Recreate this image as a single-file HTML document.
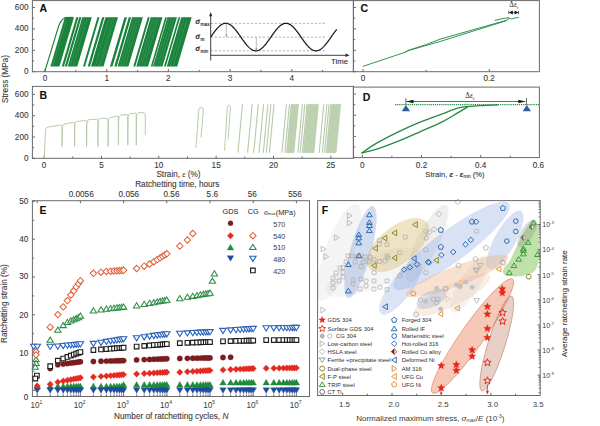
<!DOCTYPE html>
<html><head><meta charset="utf-8"><style>html,body{margin:0;padding:0;background:#fff;}svg{display:block;}</style></head>
<body><svg width="600" height="426" viewBox="0 0 600 426">
<rect x="0" y="0" width="600" height="426" fill="#ffffff"/>
<rect x="32.40" y="0.60" width="321.00" height="71.10" fill="none" stroke="#6a6a6a" stroke-width="1"/>
<line x1="32.40" y1="71.70" x2="35.00" y2="71.70" stroke="#6a6a6a" stroke-width="1" />
<text x="28.50" y="71.70" font-size="8.2" text-anchor="end" fill="#3a3a3a" font-weight="normal" font-family='"Liberation Sans", Arial, sans-serif' dominant-baseline="central" stroke="#3a3a3a" stroke-width="0.1" >0</text>
<line x1="32.40" y1="61.00" x2="34.22" y2="61.00" stroke="#6a6a6a" stroke-width="1" />
<line x1="32.40" y1="50.30" x2="35.00" y2="50.30" stroke="#6a6a6a" stroke-width="1" />
<text x="28.50" y="50.30" font-size="8.2" text-anchor="end" fill="#3a3a3a" font-weight="normal" font-family='"Liberation Sans", Arial, sans-serif' dominant-baseline="central" stroke="#3a3a3a" stroke-width="0.1" >200</text>
<line x1="32.40" y1="39.60" x2="34.22" y2="39.60" stroke="#6a6a6a" stroke-width="1" />
<line x1="32.40" y1="28.90" x2="35.00" y2="28.90" stroke="#6a6a6a" stroke-width="1" />
<text x="28.50" y="28.90" font-size="8.2" text-anchor="end" fill="#3a3a3a" font-weight="normal" font-family='"Liberation Sans", Arial, sans-serif' dominant-baseline="central" stroke="#3a3a3a" stroke-width="0.1" >400</text>
<line x1="32.40" y1="18.20" x2="34.22" y2="18.20" stroke="#6a6a6a" stroke-width="1" />
<line x1="32.40" y1="7.50" x2="35.00" y2="7.50" stroke="#6a6a6a" stroke-width="1" />
<text x="28.50" y="7.50" font-size="8.2" text-anchor="end" fill="#3a3a3a" font-weight="normal" font-family='"Liberation Sans", Arial, sans-serif' dominant-baseline="central" stroke="#3a3a3a" stroke-width="0.1" >600</text>
<line x1="45.00" y1="71.70" x2="45.00" y2="69.10" stroke="#6a6a6a" stroke-width="1" />
<text x="45.00" y="78.00" font-size="8.2" text-anchor="middle" fill="#3a3a3a" font-weight="normal" font-family='"Liberation Sans", Arial, sans-serif' dominant-baseline="central" stroke="#3a3a3a" stroke-width="0.1" >0</text>
<line x1="75.85" y1="71.70" x2="75.85" y2="69.88" stroke="#6a6a6a" stroke-width="1" />
<line x1="106.70" y1="71.70" x2="106.70" y2="69.10" stroke="#6a6a6a" stroke-width="1" />
<text x="106.70" y="78.00" font-size="8.2" text-anchor="middle" fill="#3a3a3a" font-weight="normal" font-family='"Liberation Sans", Arial, sans-serif' dominant-baseline="central" stroke="#3a3a3a" stroke-width="0.1" >1</text>
<line x1="137.55" y1="71.70" x2="137.55" y2="69.88" stroke="#6a6a6a" stroke-width="1" />
<line x1="168.40" y1="71.70" x2="168.40" y2="69.10" stroke="#6a6a6a" stroke-width="1" />
<text x="168.40" y="78.00" font-size="8.2" text-anchor="middle" fill="#3a3a3a" font-weight="normal" font-family='"Liberation Sans", Arial, sans-serif' dominant-baseline="central" stroke="#3a3a3a" stroke-width="0.1" >2</text>
<line x1="199.25" y1="71.70" x2="199.25" y2="69.88" stroke="#6a6a6a" stroke-width="1" />
<line x1="230.10" y1="71.70" x2="230.10" y2="69.10" stroke="#6a6a6a" stroke-width="1" />
<text x="230.10" y="78.00" font-size="8.2" text-anchor="middle" fill="#3a3a3a" font-weight="normal" font-family='"Liberation Sans", Arial, sans-serif' dominant-baseline="central" stroke="#3a3a3a" stroke-width="0.1" >3</text>
<line x1="260.95" y1="71.70" x2="260.95" y2="69.88" stroke="#6a6a6a" stroke-width="1" />
<line x1="291.80" y1="71.70" x2="291.80" y2="69.10" stroke="#6a6a6a" stroke-width="1" />
<text x="291.80" y="78.00" font-size="8.2" text-anchor="middle" fill="#3a3a3a" font-weight="normal" font-family='"Liberation Sans", Arial, sans-serif' dominant-baseline="central" stroke="#3a3a3a" stroke-width="0.1" >4</text>
<line x1="322.65" y1="71.70" x2="322.65" y2="69.88" stroke="#6a6a6a" stroke-width="1" />
<rect x="32.40" y="86.40" width="321.00" height="71.90" fill="none" stroke="#6a6a6a" stroke-width="1"/>
<line x1="32.40" y1="158.30" x2="35.00" y2="158.30" stroke="#6a6a6a" stroke-width="1" />
<text x="28.50" y="158.30" font-size="8.2" text-anchor="end" fill="#3a3a3a" font-weight="normal" font-family='"Liberation Sans", Arial, sans-serif' dominant-baseline="central" stroke="#3a3a3a" stroke-width="0.1" >0</text>
<line x1="32.40" y1="147.65" x2="34.22" y2="147.65" stroke="#6a6a6a" stroke-width="1" />
<line x1="32.40" y1="137.00" x2="35.00" y2="137.00" stroke="#6a6a6a" stroke-width="1" />
<text x="28.50" y="137.00" font-size="8.2" text-anchor="end" fill="#3a3a3a" font-weight="normal" font-family='"Liberation Sans", Arial, sans-serif' dominant-baseline="central" stroke="#3a3a3a" stroke-width="0.1" >200</text>
<line x1="32.40" y1="126.35" x2="34.22" y2="126.35" stroke="#6a6a6a" stroke-width="1" />
<line x1="32.40" y1="115.70" x2="35.00" y2="115.70" stroke="#6a6a6a" stroke-width="1" />
<text x="28.50" y="115.70" font-size="8.2" text-anchor="end" fill="#3a3a3a" font-weight="normal" font-family='"Liberation Sans", Arial, sans-serif' dominant-baseline="central" stroke="#3a3a3a" stroke-width="0.1" >400</text>
<line x1="32.40" y1="105.05" x2="34.22" y2="105.05" stroke="#6a6a6a" stroke-width="1" />
<line x1="32.40" y1="94.40" x2="35.00" y2="94.40" stroke="#6a6a6a" stroke-width="1" />
<text x="28.50" y="94.40" font-size="8.2" text-anchor="end" fill="#3a3a3a" font-weight="normal" font-family='"Liberation Sans", Arial, sans-serif' dominant-baseline="central" stroke="#3a3a3a" stroke-width="0.1" >600</text>
<line x1="44.10" y1="158.30" x2="44.10" y2="155.70" stroke="#6a6a6a" stroke-width="1" />
<text x="44.10" y="165.00" font-size="8.2" text-anchor="middle" fill="#3a3a3a" font-weight="normal" font-family='"Liberation Sans", Arial, sans-serif' dominant-baseline="central" stroke="#3a3a3a" stroke-width="0.1" >0</text>
<line x1="72.78" y1="158.30" x2="72.78" y2="156.48" stroke="#6a6a6a" stroke-width="1" />
<line x1="101.45" y1="158.30" x2="101.45" y2="155.70" stroke="#6a6a6a" stroke-width="1" />
<text x="101.45" y="165.00" font-size="8.2" text-anchor="middle" fill="#3a3a3a" font-weight="normal" font-family='"Liberation Sans", Arial, sans-serif' dominant-baseline="central" stroke="#3a3a3a" stroke-width="0.1" >5</text>
<line x1="130.12" y1="158.30" x2="130.12" y2="156.48" stroke="#6a6a6a" stroke-width="1" />
<line x1="158.80" y1="158.30" x2="158.80" y2="155.70" stroke="#6a6a6a" stroke-width="1" />
<text x="158.80" y="165.00" font-size="8.2" text-anchor="middle" fill="#3a3a3a" font-weight="normal" font-family='"Liberation Sans", Arial, sans-serif' dominant-baseline="central" stroke="#3a3a3a" stroke-width="0.1" >10</text>
<line x1="187.47" y1="158.30" x2="187.47" y2="156.48" stroke="#6a6a6a" stroke-width="1" />
<line x1="216.15" y1="158.30" x2="216.15" y2="155.70" stroke="#6a6a6a" stroke-width="1" />
<text x="216.15" y="165.00" font-size="8.2" text-anchor="middle" fill="#3a3a3a" font-weight="normal" font-family='"Liberation Sans", Arial, sans-serif' dominant-baseline="central" stroke="#3a3a3a" stroke-width="0.1" >15</text>
<line x1="244.83" y1="158.30" x2="244.83" y2="156.48" stroke="#6a6a6a" stroke-width="1" />
<line x1="273.50" y1="158.30" x2="273.50" y2="155.70" stroke="#6a6a6a" stroke-width="1" />
<text x="273.50" y="165.00" font-size="8.2" text-anchor="middle" fill="#3a3a3a" font-weight="normal" font-family='"Liberation Sans", Arial, sans-serif' dominant-baseline="central" stroke="#3a3a3a" stroke-width="0.1" >20</text>
<line x1="302.18" y1="158.30" x2="302.18" y2="156.48" stroke="#6a6a6a" stroke-width="1" />
<line x1="330.85" y1="158.30" x2="330.85" y2="155.70" stroke="#6a6a6a" stroke-width="1" />
<text x="330.85" y="165.00" font-size="8.2" text-anchor="middle" fill="#3a3a3a" font-weight="normal" font-family='"Liberation Sans", Arial, sans-serif' dominant-baseline="central" stroke="#3a3a3a" stroke-width="0.1" >25</text>
<text x="178.50" y="174.30" font-size="8.2" text-anchor="middle" fill="#3a3a3a" font-weight="normal" font-family='"Liberation Sans", Arial, sans-serif' dominant-baseline="central" stroke="#3a3a3a" stroke-width="0.1" >Strain, <tspan font-style="italic" font-family="Liberation Serif, serif">ε</tspan> (%)</text>
<rect x="353.40" y="0.60" width="186.00" height="71.10" fill="none" stroke="#6a6a6a" stroke-width="1"/>
<line x1="353.40" y1="71.70" x2="356.00" y2="71.70" stroke="#6a6a6a" stroke-width="1" />
<line x1="353.40" y1="61.00" x2="355.22" y2="61.00" stroke="#6a6a6a" stroke-width="1" />
<line x1="353.40" y1="50.30" x2="356.00" y2="50.30" stroke="#6a6a6a" stroke-width="1" />
<line x1="353.40" y1="39.60" x2="355.22" y2="39.60" stroke="#6a6a6a" stroke-width="1" />
<line x1="353.40" y1="28.90" x2="356.00" y2="28.90" stroke="#6a6a6a" stroke-width="1" />
<line x1="353.40" y1="18.20" x2="355.22" y2="18.20" stroke="#6a6a6a" stroke-width="1" />
<line x1="353.40" y1="7.50" x2="356.00" y2="7.50" stroke="#6a6a6a" stroke-width="1" />
<line x1="363.00" y1="71.70" x2="363.00" y2="69.10" stroke="#6a6a6a" stroke-width="1" />
<line x1="426.10" y1="71.70" x2="426.10" y2="69.88" stroke="#6a6a6a" stroke-width="1" />
<line x1="489.20" y1="71.70" x2="489.20" y2="69.10" stroke="#6a6a6a" stroke-width="1" />
<text x="363.00" y="78.00" font-size="8.2" text-anchor="middle" fill="#3a3a3a" font-weight="normal" font-family='"Liberation Sans", Arial, sans-serif' dominant-baseline="central" stroke="#3a3a3a" stroke-width="0.1" >0</text>
<text x="489.20" y="78.00" font-size="8.2" text-anchor="middle" fill="#3a3a3a" font-weight="normal" font-family='"Liberation Sans", Arial, sans-serif' dominant-baseline="central" stroke="#3a3a3a" stroke-width="0.1" >0.2</text>
<rect x="353.40" y="87.10" width="186.00" height="70.50" fill="none" stroke="#6a6a6a" stroke-width="1"/>
<line x1="353.40" y1="157.60" x2="356.00" y2="157.60" stroke="#6a6a6a" stroke-width="1" />
<line x1="353.40" y1="147.02" x2="355.22" y2="147.02" stroke="#6a6a6a" stroke-width="1" />
<line x1="353.40" y1="136.43" x2="356.00" y2="136.43" stroke="#6a6a6a" stroke-width="1" />
<line x1="353.40" y1="125.85" x2="355.22" y2="125.85" stroke="#6a6a6a" stroke-width="1" />
<line x1="353.40" y1="115.27" x2="356.00" y2="115.27" stroke="#6a6a6a" stroke-width="1" />
<line x1="353.40" y1="104.68" x2="355.22" y2="104.68" stroke="#6a6a6a" stroke-width="1" />
<line x1="353.40" y1="94.10" x2="356.00" y2="94.10" stroke="#6a6a6a" stroke-width="1" />
<line x1="362.30" y1="157.60" x2="362.30" y2="155.00" stroke="#6a6a6a" stroke-width="1" />
<line x1="391.90" y1="157.60" x2="391.90" y2="155.78" stroke="#6a6a6a" stroke-width="1" />
<line x1="421.50" y1="157.60" x2="421.50" y2="155.00" stroke="#6a6a6a" stroke-width="1" />
<line x1="451.10" y1="157.60" x2="451.10" y2="155.78" stroke="#6a6a6a" stroke-width="1" />
<line x1="480.70" y1="157.60" x2="480.70" y2="155.00" stroke="#6a6a6a" stroke-width="1" />
<line x1="510.30" y1="157.60" x2="510.30" y2="155.78" stroke="#6a6a6a" stroke-width="1" />
<text x="362.30" y="165.00" font-size="8.2" text-anchor="middle" fill="#3a3a3a" font-weight="normal" font-family='"Liberation Sans", Arial, sans-serif' dominant-baseline="central" stroke="#3a3a3a" stroke-width="0.1" >0</text>
<text x="421.50" y="165.00" font-size="8.2" text-anchor="middle" fill="#3a3a3a" font-weight="normal" font-family='"Liberation Sans", Arial, sans-serif' dominant-baseline="central" stroke="#3a3a3a" stroke-width="0.1" >0.2</text>
<text x="480.70" y="165.00" font-size="8.2" text-anchor="middle" fill="#3a3a3a" font-weight="normal" font-family='"Liberation Sans", Arial, sans-serif' dominant-baseline="central" stroke="#3a3a3a" stroke-width="0.1" >0.4</text>
<text x="538.40" y="165.00" font-size="8.2" text-anchor="middle" fill="#3a3a3a" font-weight="normal" font-family='"Liberation Sans", Arial, sans-serif' dominant-baseline="central" stroke="#3a3a3a" stroke-width="0.1" >0.6</text>
<text x="455.00" y="174.00" font-size="7.6" text-anchor="middle" fill="#3a3a3a" font-weight="normal" font-family='"Liberation Sans", Arial, sans-serif' dominant-baseline="central" stroke="#3a3a3a" stroke-width="0.1" >Strain, <tspan font-style="italic" font-weight="bold">ε</tspan> - <tspan font-style="italic" font-weight="bold">ε</tspan><tspan font-size="4.5" dy="1.5">min</tspan><tspan dy="-1.5"> (%)</tspan></text>
<text x="5.00" y="79.00" font-size="8.2" text-anchor="middle" fill="#3a3a3a" font-weight="normal" font-family='"Liberation Sans", Arial, sans-serif' dominant-baseline="central" stroke="#3a3a3a" stroke-width="0.1" transform="rotate(-90 5.0 79.0)">Stress (MPa)</text>
<text x="43.30" y="7.90" font-size="10.5" text-anchor="middle" fill="#111" font-weight="bold" font-family='"Liberation Sans", Arial, sans-serif' dominant-baseline="central" stroke="#111" stroke-width="0.1" >A</text>
<text x="43.30" y="94.60" font-size="10.5" text-anchor="middle" fill="#111" font-weight="bold" font-family='"Liberation Sans", Arial, sans-serif' dominant-baseline="central" stroke="#111" stroke-width="0.1" >B</text>
<text x="364.20" y="7.90" font-size="10.5" text-anchor="middle" fill="#111" font-weight="bold" font-family='"Liberation Sans", Arial, sans-serif' dominant-baseline="central" stroke="#111" stroke-width="0.1" >C</text>
<text x="366.50" y="96.50" font-size="10.5" text-anchor="middle" fill="#111" font-weight="bold" font-family='"Liberation Sans", Arial, sans-serif' dominant-baseline="central" stroke="#111" stroke-width="0.1" >D</text>
<polygon points="50.40,66.60 59.50,66.60 73.97,17.20 64.87,17.20" fill="#19823b" stroke="none" stroke-width="0" opacity="1"/>
<polygon points="61.80,66.60 64.00,66.60 78.47,17.20 76.27,17.20" fill="#19823b" stroke="none" stroke-width="0" opacity="1"/>
<polygon points="64.80,66.60 67.00,66.60 81.47,17.20 79.27,17.20" fill="#19823b" stroke="none" stroke-width="0" opacity="1"/>
<polygon points="67.80,66.60 77.30,66.60 91.77,17.20 82.27,17.20" fill="#19823b" stroke="none" stroke-width="0" opacity="1"/>
<polygon points="83.00,66.60 85.00,66.60 99.47,17.20 97.47,17.20" fill="#19823b" stroke="none" stroke-width="0" opacity="1"/>
<polygon points="87.70,66.60 90.00,66.60 104.47,17.20 102.17,17.20" fill="#19823b" stroke="none" stroke-width="0" opacity="1"/>
<polygon points="91.00,66.60 103.50,66.60 117.97,17.20 105.47,17.20" fill="#19823b" stroke="none" stroke-width="0" opacity="1"/>
<polygon points="110.00,66.60 112.50,66.60 126.97,17.20 124.47,17.20" fill="#19823b" stroke="none" stroke-width="0" opacity="1"/>
<polygon points="114.30,66.60 116.70,66.60 131.17,17.20 128.77,17.20" fill="#19823b" stroke="none" stroke-width="0" opacity="1"/>
<polygon points="117.60,66.60 128.40,66.60 142.87,17.20 132.07,17.20" fill="#19823b" stroke="none" stroke-width="0" opacity="1"/>
<polygon points="133.30,66.60 135.30,66.60 149.77,17.20 147.77,17.20" fill="#19823b" stroke="none" stroke-width="0" opacity="1"/>
<polygon points="136.30,66.60 148.00,66.60 162.47,17.20 150.77,17.20" fill="#19823b" stroke="none" stroke-width="0" opacity="1"/>
<polygon points="150.80,66.60 152.50,66.60 166.97,17.20 165.27,17.20" fill="#19823b" stroke="none" stroke-width="0" opacity="1"/>
<polygon points="153.00,66.60 162.50,66.60 176.97,17.20 167.47,17.20" fill="#19823b" stroke="none" stroke-width="0" opacity="1"/>
<polygon points="164.00,66.60 165.80,66.60 180.27,17.20 178.47,17.20" fill="#19823b" stroke="none" stroke-width="0" opacity="1"/>
<polygon points="166.80,66.60 177.20,66.60 191.67,17.20 181.27,17.20" fill="#19823b" stroke="none" stroke-width="0" opacity="1"/>
<line x1="52.65" y1="66.10" x2="66.53" y2="18.70" stroke="#ffffff" stroke-width="0.4" opacity="0.3"/>
<line x1="70.15" y1="66.10" x2="84.03" y2="18.70" stroke="#ffffff" stroke-width="0.4" opacity="0.3"/>
<line x1="73.15" y1="66.10" x2="87.03" y2="18.70" stroke="#ffffff" stroke-width="0.4" opacity="0.3"/>
<line x1="95.15" y1="66.10" x2="109.03" y2="18.70" stroke="#ffffff" stroke-width="0.4" opacity="0.3"/>
<line x1="98.65" y1="66.10" x2="112.53" y2="18.70" stroke="#ffffff" stroke-width="0.4" opacity="0.3"/>
<line x1="100.65" y1="66.10" x2="114.53" y2="18.70" stroke="#ffffff" stroke-width="0.4" opacity="0.3"/>
<line x1="120.15" y1="66.10" x2="134.03" y2="18.70" stroke="#ffffff" stroke-width="0.4" opacity="0.3"/>
<line x1="122.65" y1="66.10" x2="136.53" y2="18.70" stroke="#ffffff" stroke-width="0.4" opacity="0.3"/>
<line x1="125.15" y1="66.10" x2="139.03" y2="18.70" stroke="#ffffff" stroke-width="0.4" opacity="0.3"/>
<line x1="139.15" y1="66.10" x2="153.03" y2="18.70" stroke="#ffffff" stroke-width="0.4" opacity="0.3"/>
<line x1="141.65" y1="66.10" x2="155.53" y2="18.70" stroke="#ffffff" stroke-width="0.4" opacity="0.3"/>
<line x1="144.15" y1="66.10" x2="158.03" y2="18.70" stroke="#ffffff" stroke-width="0.4" opacity="0.3"/>
<line x1="155.15" y1="66.10" x2="169.03" y2="18.70" stroke="#ffffff" stroke-width="0.4" opacity="0.3"/>
<line x1="157.65" y1="66.10" x2="171.53" y2="18.70" stroke="#ffffff" stroke-width="0.4" opacity="0.3"/>
<line x1="160.15" y1="66.10" x2="174.03" y2="18.70" stroke="#ffffff" stroke-width="0.4" opacity="0.3"/>
<line x1="170.15" y1="66.10" x2="184.03" y2="18.70" stroke="#ffffff" stroke-width="0.4" opacity="0.3"/>
<line x1="173.15" y1="66.10" x2="187.03" y2="18.70" stroke="#ffffff" stroke-width="0.4" opacity="0.3"/>
<path d="M44.7,71.7 L47.4,63 L58.2,27.5 Q60.8,19.5 65.5,17.6 L72.8,17.2" fill="none" stroke="#19823b" stroke-width="1.1"/>
<g stroke="#9a9a9a" stroke-width="0.8" stroke-dasharray="2.2,1.8"><line x1="210.7" y1="23.3" x2="326.5" y2="23.3"/><line x1="210.7" y1="37.1" x2="326.5" y2="37.1"/><line x1="210.7" y1="50.8" x2="326.5" y2="50.8"/></g>
<polyline points="210.70,37.05 211.20,36.33 211.70,35.62 212.20,34.91 212.70,34.20 213.20,33.50 213.70,32.81 214.20,32.14 214.70,31.47 215.20,30.83 215.70,30.20 216.20,29.58 216.70,28.99 217.20,28.42 217.70,27.87 218.20,27.35 218.70,26.86 219.20,26.39 219.70,25.95 220.20,25.54 220.70,25.17 221.20,24.82 221.70,24.51 222.20,24.23 222.70,23.99 223.20,23.78 223.70,23.61 224.20,23.48 224.70,23.38 225.20,23.32 225.70,23.30 226.20,23.32 226.70,23.37 227.20,23.46 227.70,23.58 228.20,23.75 228.70,23.95 229.20,24.18 229.70,24.45 230.20,24.76 230.70,25.09 231.20,25.47 231.70,25.87 232.20,26.30 232.70,26.76 233.20,27.25 233.70,27.77 234.20,28.31 234.70,28.88 235.20,29.46 235.70,30.07 236.20,30.70 236.70,31.34 237.20,32.00 237.70,32.68 238.20,33.36 238.70,34.06 239.20,34.76 239.70,35.47 240.20,36.19 240.70,36.91 241.20,37.62 241.70,38.34 242.20,39.05 242.70,39.76 243.20,40.46 243.70,41.15 244.20,41.83 244.70,42.49 245.20,43.14 245.70,43.78 246.20,44.40 246.70,44.99 247.20,45.57 247.70,46.12 248.20,46.65 248.70,47.15 249.20,47.62 249.70,48.06 250.20,48.48 250.70,48.86 251.20,49.21 251.70,49.53 252.20,49.81 252.70,50.06 253.20,50.28 253.70,50.46 254.20,50.60 254.70,50.70 255.20,50.77 255.70,50.80 256.20,50.79 256.70,50.75 257.20,50.66 257.70,50.54 258.20,50.39 258.70,50.20 259.20,49.97 259.70,49.70 260.20,49.41 260.70,49.08 261.20,48.71 261.70,48.32 262.20,47.89 262.70,47.43 263.20,46.95 263.70,46.44 264.20,45.90 264.70,45.34 265.20,44.76 265.70,44.15 266.20,43.53 266.70,42.89 267.20,42.23 267.70,41.56 268.20,40.87 268.70,40.18 269.20,39.48 269.70,38.77 270.20,38.05 270.70,37.34 271.20,36.62 271.70,35.90 272.20,35.19 272.70,34.48 273.20,33.78 273.70,33.09 274.20,32.41 274.70,31.74 275.20,31.08 275.70,30.45 276.20,29.83 276.70,29.23 277.20,28.65 277.70,28.09 278.20,27.56 278.70,27.05 279.20,26.57 279.70,26.12 280.20,25.70 280.70,25.31 281.20,24.96 281.70,24.63 282.20,24.34 282.70,24.08 283.20,23.86 283.70,23.68 284.20,23.53 284.70,23.42 285.20,23.34 285.70,23.30 286.20,23.30 286.70,23.34 287.20,23.42 287.70,23.53 288.20,23.68 288.70,23.86 289.20,24.08 289.70,24.34 290.20,24.63 290.70,24.96 291.20,25.31 291.70,25.70 292.20,26.12 292.70,26.57 293.20,27.05 293.70,27.56 294.20,28.09 294.70,28.65 295.20,29.23 295.70,29.83 296.20,30.45 296.70,31.08 297.20,31.74 297.70,32.41 298.20,33.09 298.70,33.78 299.20,34.48 299.70,35.19 300.20,35.90 300.70,36.62 301.20,37.34 301.70,38.05 302.20,38.77 302.70,39.48 303.20,40.18 303.70,40.87 304.20,41.56 304.70,42.23 305.20,42.89 305.70,43.53 306.20,44.15 306.70,44.76 307.20,45.34 307.70,45.90 308.20,46.44 308.70,46.95 309.20,47.43 309.70,47.89 310.20,48.32 310.70,48.71 311.20,49.08 311.70,49.41 312.20,49.70 312.70,49.97 313.20,50.20 313.70,50.39 314.20,50.54 314.70,50.66 315.20,50.75 315.70,50.79 316.20,50.80 316.70,50.77 317.20,50.70 317.70,50.60 318.20,50.46 318.70,50.28 319.20,50.06 319.70,49.81 320.20,49.53 320.70,49.21 321.20,48.86 321.70,48.48 322.20,48.06 322.70,47.62 323.20,47.15 323.70,46.65 324.20,46.12 324.70,45.57 325.20,44.99 325.70,44.40 326.20,43.78 326.70,43.14 327.20,42.49 327.70,41.83 328.20,41.15 328.70,40.46 329.20,39.76 329.70,39.05 330.20,38.34 330.70,37.62 331.20,36.91 331.70,36.19 332.20,35.47 332.70,34.76 333.20,34.06 333.70,33.36 334.20,32.68 334.70,32.00 335.20,31.34 335.70,30.70 336.20,30.07 336.70,29.46" fill="none" stroke="#1a1a1a" stroke-width="1.25"/>
<line x1="226.30" y1="23.80" x2="226.30" y2="36.60" stroke="#8a8a8a" stroke-width="0.6" />
<line x1="256.30" y1="37.60" x2="256.30" y2="50.30" stroke="#8a8a8a" stroke-width="0.6" />
<polygon points="225.3,34.5 227.3,34.5 226.3,37.1" fill="#8a8a8a"/>
<polygon points="255.3,48.2 257.3,48.2 256.3,50.8" fill="#8a8a8a"/>
<line x1="210.70" y1="14.50" x2="210.70" y2="60.50" stroke="#2a2a2a" stroke-width="0.9" />
<line x1="210.70" y1="55.30" x2="347.00" y2="55.30" stroke="#2a2a2a" stroke-width="0.9" />
<polygon points="209.1,16.3 212.29999999999998,16.3 210.7,12.0" fill="#2a2a2a"/>
<polygon points="345.5,53.6 345.5,57.0 349.6,55.3" fill="#2a2a2a"/>
<text x="195.4" y="21.0" font-size="8.5" fill="#1e1e1e" stroke="#1e1e1e" stroke-width="0.3" font-family="Liberation Serif, serif" font-style="italic" dominant-baseline="central">σ</text>
<text x="200.5" y="24.6" font-size="4.8" fill="#2a2a2a" stroke="#2a2a2a" stroke-width="0.15" font-family='"Liberation Sans", Arial, sans-serif' dominant-baseline="central">max</text>
<text x="195.4" y="35.6" font-size="8.5" fill="#1e1e1e" stroke="#1e1e1e" stroke-width="0.3" font-family="Liberation Serif, serif" font-style="italic" dominant-baseline="central">σ</text>
<text x="200.5" y="39.2" font-size="4.8" fill="#2a2a2a" stroke="#2a2a2a" stroke-width="0.15" font-family='"Liberation Sans", Arial, sans-serif' dominant-baseline="central">m</text>
<text x="195.4" y="48.2" font-size="8.5" fill="#1e1e1e" stroke="#1e1e1e" stroke-width="0.3" font-family="Liberation Serif, serif" font-style="italic" dominant-baseline="central">σ</text>
<text x="200.5" y="51.800000000000004" font-size="4.8" fill="#2a2a2a" stroke="#2a2a2a" stroke-width="0.15" font-family='"Liberation Sans", Arial, sans-serif' dominant-baseline="central">min</text>
<text x="339.50" y="61.60" font-size="7.8" text-anchor="middle" fill="#2a2a2a" font-weight="normal" font-family='"Liberation Sans", Arial, sans-serif' dominant-baseline="central" stroke="#2a2a2a" stroke-width="0.1" >Time</text>
<path d="M44.2,158.3 L45.6,129.2 Q46.1,127.2 48.6,126.9 L61.5,125.0 Q62.0,125.3 62.0,127 L62.1,146.6 L62.4,127.5 Q62.7,124.4 64.5,124.1 L74.0,122.2 Q74.5,122.5 74.5,124.2 L74.6,146.6 L74.9,124.7 Q75.2,121.60000000000001 77,121.3 L86.0,120.5 Q86.5,120.8 86.5,122.5 L86.6,146.6 L86.9,123.0 Q87.2,119.9 89,119.6 L97.3,119.2 Q97.8,119.5 97.8,121.2 L97.89999999999999,146.6 L98.2,121.7 Q98.5,118.60000000000001 100.3,118.3 L107.5,118.4 Q108.0,118.7 108.0,120.4 L108.1,146.6 L108.4,120.9 Q108.7,117.80000000000001 110.5,117.5 L117.8,116.0 Q118.3,116.3 118.3,118 L118.39999999999999,145.2 L118.7,118.5 Q119.0,115.4 120.8,115.1 L127.2,114.5 Q127.7,114.8 127.7,116.5 L127.8,145.2 L128.1,117.0 Q128.4,113.9 130.2,113.6 L135.7,113.2 Q136.2,113.5 136.2,115.2 L136.29999999999998,145.2 L136.6,115.7 Q136.89999999999998,112.60000000000001 138.7,112.3 L144.2,113 Q145.3,113.2 145.3,115 L145.3,135.3" fill="none" stroke="#b5caa9" stroke-width="0.95"/>
<path d="M196,147.9 L198.8,109.5 Q199.10000000000002,107.5 201.0,107.5 Q203.4,107.5 203.4,110.0 L201.0,137.6" fill="none" stroke="#b5caa9" stroke-width="0.95"/>
<path d="M224.5,150.7 L227.3,107.3 Q227.60000000000002,105.3 229.5,105.3 Q230.4,105.3 230.4,107.8 L228.0,139.5" fill="none" stroke="#b5caa9" stroke-width="0.95"/>
<line x1="237.9" y1="152.8" x2="242.5" y2="104.3" stroke="#b5caa9" stroke-width="1.1"/>
<line x1="247.6" y1="152.8" x2="252.2" y2="104.3" stroke="#b5caa9" stroke-width="1.1"/>
<line x1="253.7" y1="152.8" x2="258.3" y2="104.3" stroke="#b5caa9" stroke-width="1.1"/>
<line x1="259.0" y1="152.8" x2="263.6" y2="104.3" stroke="#b5caa9" stroke-width="1.1"/>
<line x1="263.3" y1="152.8" x2="267.90000000000003" y2="104.3" stroke="#b5caa9" stroke-width="1.1"/>
<line x1="266.3" y1="152.8" x2="270.90000000000003" y2="104.3" stroke="#b5caa9" stroke-width="1.1"/>
<line x1="269.4" y1="152.8" x2="274.0" y2="104.3" stroke="#b5caa9" stroke-width="1.1"/>
<line x1="281.9" y1="152.8" x2="286.5" y2="104.3" stroke="#b5caa9" stroke-width="1.1"/>
<line x1="284.9" y1="152.8" x2="289.5" y2="104.3" stroke="#b5caa9" stroke-width="1.1"/>
<line x1="297.9" y1="152.8" x2="302.5" y2="104.3" stroke="#b5caa9" stroke-width="1.1"/>
<line x1="300.2" y1="152.8" x2="304.8" y2="104.3" stroke="#b5caa9" stroke-width="1.1"/>
<line x1="302.4" y1="152.8" x2="307.0" y2="104.3" stroke="#b5caa9" stroke-width="1.1"/>
<line x1="319.2" y1="152.8" x2="323.8" y2="104.3" stroke="#b5caa9" stroke-width="1.1"/>
<line x1="322.3" y1="152.8" x2="326.90000000000003" y2="104.3" stroke="#b5caa9" stroke-width="1.1"/>
<line x1="324.5" y1="152.8" x2="329.1" y2="104.3" stroke="#b5caa9" stroke-width="1.1"/>
<polygon points="286.40,152.80 294.00,152.80 298.60,104.30 291.00,104.30" fill="#cadabf" stroke="#b8cdab" stroke-width="0.4" opacity="1"/>
<line x1="287.00" y1="152.8" x2="291.60" y2="104.3" stroke="#a6c193" stroke-width="0.4"/>
<line x1="288.10" y1="152.8" x2="292.70" y2="104.3" stroke="#a6c193" stroke-width="0.4"/>
<line x1="289.20" y1="152.8" x2="293.80" y2="104.3" stroke="#a6c193" stroke-width="0.4"/>
<line x1="290.30" y1="152.8" x2="294.90" y2="104.3" stroke="#a6c193" stroke-width="0.4"/>
<line x1="291.40" y1="152.8" x2="296.00" y2="104.3" stroke="#a6c193" stroke-width="0.4"/>
<line x1="292.50" y1="152.8" x2="297.10" y2="104.3" stroke="#a6c193" stroke-width="0.4"/>
<line x1="293.60" y1="152.8" x2="298.20" y2="104.3" stroke="#a6c193" stroke-width="0.4"/>
<polygon points="303.20,152.80 313.90,152.80 318.50,104.30 307.80,104.30" fill="#cadabf" stroke="#b8cdab" stroke-width="0.4" opacity="1"/>
<line x1="303.80" y1="152.8" x2="308.40" y2="104.3" stroke="#a6c193" stroke-width="0.4"/>
<line x1="304.90" y1="152.8" x2="309.50" y2="104.3" stroke="#a6c193" stroke-width="0.4"/>
<line x1="306.00" y1="152.8" x2="310.60" y2="104.3" stroke="#a6c193" stroke-width="0.4"/>
<line x1="307.10" y1="152.8" x2="311.70" y2="104.3" stroke="#a6c193" stroke-width="0.4"/>
<line x1="308.20" y1="152.8" x2="312.80" y2="104.3" stroke="#a6c193" stroke-width="0.4"/>
<line x1="309.30" y1="152.8" x2="313.90" y2="104.3" stroke="#a6c193" stroke-width="0.4"/>
<line x1="310.40" y1="152.8" x2="315.00" y2="104.3" stroke="#a6c193" stroke-width="0.4"/>
<line x1="311.50" y1="152.8" x2="316.10" y2="104.3" stroke="#a6c193" stroke-width="0.4"/>
<line x1="312.60" y1="152.8" x2="317.20" y2="104.3" stroke="#a6c193" stroke-width="0.4"/>
<line x1="313.70" y1="152.8" x2="318.30" y2="104.3" stroke="#a6c193" stroke-width="0.4"/>
<polygon points="326.00,152.80 336.20,152.80 340.80,104.30 330.60,104.30" fill="#cadabf" stroke="#b8cdab" stroke-width="0.4" opacity="1"/>
<line x1="326.60" y1="152.8" x2="331.20" y2="104.3" stroke="#a6c193" stroke-width="0.4"/>
<line x1="327.70" y1="152.8" x2="332.30" y2="104.3" stroke="#a6c193" stroke-width="0.4"/>
<line x1="328.80" y1="152.8" x2="333.40" y2="104.3" stroke="#a6c193" stroke-width="0.4"/>
<line x1="329.90" y1="152.8" x2="334.50" y2="104.3" stroke="#a6c193" stroke-width="0.4"/>
<line x1="331.00" y1="152.8" x2="335.60" y2="104.3" stroke="#a6c193" stroke-width="0.4"/>
<line x1="332.10" y1="152.8" x2="336.70" y2="104.3" stroke="#a6c193" stroke-width="0.4"/>
<line x1="333.20" y1="152.8" x2="337.80" y2="104.3" stroke="#a6c193" stroke-width="0.4"/>
<line x1="334.30" y1="152.8" x2="338.90" y2="104.3" stroke="#a6c193" stroke-width="0.4"/>
<line x1="335.40" y1="152.8" x2="340.00" y2="104.3" stroke="#a6c193" stroke-width="0.4"/>
<path d="M362.8,66.4 L405,52.3 Q407.5,50.6 410.5,50 L425,45.8 L440,41.5 L506.7,20.6" fill="none" stroke="#2b8c4b" stroke-width="0.95"/>
<path d="M405,52.3 Q407.5,50.2 410.5,49.6 L425,45 L440,39.2 L506.7,20.2 L509.3,18.4 L512,19.0 L514,18.2 L518.9,17.4" fill="none" stroke="#2b8c4b" stroke-width="0.95"/>
<path d="M494.7,20.4 L503,18.5 L509.3,17.6" fill="none" stroke="#2b8c4b" stroke-width="0.95"/>
<text x="513.8" y="5.2" font-size="7.2" fill="#2a2a2a" font-family="Liberation Serif, serif" text-anchor="middle" dominant-baseline="central">Δε<tspan font-size="4.2" dy="1.6">r</tspan></text>
<line x1="508.80" y1="10.80" x2="508.80" y2="14.20" stroke="#222" stroke-width="0.7" />
<line x1="518.60" y1="10.80" x2="518.60" y2="14.20" stroke="#222" stroke-width="0.7" />
<line x1="509.00" y1="12.50" x2="518.40" y2="12.50" stroke="#222" stroke-width="0.6" />
<polygon points="509.1,12.5 512.8,10.6 512.8,14.4" fill="#111"/>
<polygon points="518.3,12.5 514.6,10.6 514.6,14.4" fill="#111"/>
<line x1="395" y1="104.6" x2="539" y2="104.6" stroke="#248a43" stroke-width="1.3" stroke-dasharray="1.2,0.9"/>
<path d="M361.50,153.10 C364.03,151.43 370.57,146.65 376.70,143.10 C382.83,139.55 391.08,135.30 398.30,131.80 C405.52,128.30 412.77,125.05 420.00,122.10 C427.23,119.15 435.57,116.38 441.70,114.10 C447.83,111.82 452.47,109.70 456.80,108.40 C461.13,107.10 465.88,106.65 467.70,106.30" fill="none" stroke="#248a43" stroke-width="1.35"/>
<path d="M361.50,153.10 C364.03,152.45 370.57,151.18 376.70,149.20 C382.83,147.22 391.08,144.10 398.30,141.20 C405.52,138.30 412.77,134.98 420.00,131.80 C427.23,128.62 435.57,125.17 441.70,122.10 C447.83,119.03 452.47,115.93 456.80,113.40 C461.13,110.87 465.88,107.98 467.70,106.90" fill="none" stroke="#248a43" stroke-width="1.35"/>
<path d="M466,107 Q470,106.3 476,105.8 L498,104.8" fill="none" stroke="#248a43" stroke-width="1.2"/>
<line x1="406.20" y1="101.50" x2="525.00" y2="101.50" stroke="#2a2a2a" stroke-width="0.7" />
<polygon points="406.2,101.5 413.5,99.7 413.5,103.3" fill="#1a1a1a"/>
<polygon points="525.6,101.5 518.3,99.7 518.3,103.3" fill="#1a1a1a"/>
<line x1="405.90" y1="98.20" x2="405.90" y2="104.80" stroke="#2a2a2a" stroke-width="0.7" />
<line x1="526.50" y1="98.20" x2="526.50" y2="104.80" stroke="#2a2a2a" stroke-width="0.7" />
<polygon points="405.9,104.9 410.1,111.3 401.7,111.3" fill="#2b5f9e"/>
<polygon points="526.8,104.9 531.0,111.3 522.6,111.3" fill="#2b5f9e"/>
<text x="469.8" y="96.3" font-size="7.2" fill="#2a2a2a" font-family="Liberation Serif, serif" text-anchor="middle" dominant-baseline="central">Δε<tspan font-size="4.2" dy="1.6">r</tspan></text>
<rect x="32.40" y="200.70" width="277.10" height="195.80" fill="none" stroke="#6a6a6a" stroke-width="1"/>
<line x1="32.40" y1="390.40" x2="35.00" y2="390.40" stroke="#6a6a6a" stroke-width="1" />
<line x1="32.40" y1="371.50" x2="34.22" y2="371.50" stroke="#6a6a6a" stroke-width="1" />
<line x1="32.40" y1="352.60" x2="35.00" y2="352.60" stroke="#6a6a6a" stroke-width="1" />
<line x1="32.40" y1="333.70" x2="34.22" y2="333.70" stroke="#6a6a6a" stroke-width="1" />
<line x1="32.40" y1="314.80" x2="35.00" y2="314.80" stroke="#6a6a6a" stroke-width="1" />
<line x1="32.40" y1="295.90" x2="34.22" y2="295.90" stroke="#6a6a6a" stroke-width="1" />
<line x1="32.40" y1="277.00" x2="35.00" y2="277.00" stroke="#6a6a6a" stroke-width="1" />
<line x1="32.40" y1="258.10" x2="34.22" y2="258.10" stroke="#6a6a6a" stroke-width="1" />
<line x1="32.40" y1="239.20" x2="35.00" y2="239.20" stroke="#6a6a6a" stroke-width="1" />
<line x1="32.40" y1="220.30" x2="34.22" y2="220.30" stroke="#6a6a6a" stroke-width="1" />
<line x1="32.40" y1="201.40" x2="35.00" y2="201.40" stroke="#6a6a6a" stroke-width="1" />
<text x="28.40" y="201.90" font-size="8.2" text-anchor="end" fill="#3a3a3a" font-weight="normal" font-family='"Liberation Sans", Arial, sans-serif' dominant-baseline="central" stroke="#3a3a3a" stroke-width="0.1" >50</text>
<text x="28.40" y="239.40" font-size="8.2" text-anchor="end" fill="#3a3a3a" font-weight="normal" font-family='"Liberation Sans", Arial, sans-serif' dominant-baseline="central" stroke="#3a3a3a" stroke-width="0.1" >40</text>
<text x="28.40" y="276.80" font-size="8.2" text-anchor="end" fill="#3a3a3a" font-weight="normal" font-family='"Liberation Sans", Arial, sans-serif' dominant-baseline="central" stroke="#3a3a3a" stroke-width="0.1" >30</text>
<text x="28.40" y="315.30" font-size="8.2" text-anchor="end" fill="#3a3a3a" font-weight="normal" font-family='"Liberation Sans", Arial, sans-serif' dominant-baseline="central" stroke="#3a3a3a" stroke-width="0.1" >20</text>
<text x="28.40" y="353.60" font-size="8.2" text-anchor="end" fill="#3a3a3a" font-weight="normal" font-family='"Liberation Sans", Arial, sans-serif' dominant-baseline="central" stroke="#3a3a3a" stroke-width="0.1" >10</text>
<text x="28.40" y="397.60" font-size="8.2" text-anchor="end" fill="#3a3a3a" font-weight="normal" font-family='"Liberation Sans", Arial, sans-serif' dominant-baseline="central" stroke="#3a3a3a" stroke-width="0.1" >0</text>
<line x1="37.20" y1="396.50" x2="37.20" y2="393.90" stroke="#6a6a6a" stroke-width="1" />
<line x1="37.20" y1="200.70" x2="37.20" y2="203.30" stroke="#6a6a6a" stroke-width="1" />
<line x1="50.20" y1="396.50" x2="50.20" y2="394.94" stroke="#6a6a6a" stroke-width="1" />
<line x1="57.81" y1="396.50" x2="57.81" y2="394.94" stroke="#6a6a6a" stroke-width="1" />
<line x1="63.21" y1="396.50" x2="63.21" y2="394.94" stroke="#6a6a6a" stroke-width="1" />
<line x1="67.40" y1="396.50" x2="67.40" y2="394.94" stroke="#6a6a6a" stroke-width="1" />
<line x1="70.82" y1="396.50" x2="70.82" y2="394.94" stroke="#6a6a6a" stroke-width="1" />
<line x1="73.71" y1="396.50" x2="73.71" y2="394.94" stroke="#6a6a6a" stroke-width="1" />
<line x1="76.21" y1="396.50" x2="76.21" y2="394.94" stroke="#6a6a6a" stroke-width="1" />
<line x1="78.42" y1="396.50" x2="78.42" y2="394.94" stroke="#6a6a6a" stroke-width="1" />
<text x="36.40" y="405.0" font-size="8.2" text-anchor="middle" fill="#3a3a3a" font-family='"Liberation Sans", Arial, sans-serif' dominant-baseline="central">10<tspan font-size="5" dy="-2.6">1</tspan></text>
<line x1="80.40" y1="396.50" x2="80.40" y2="393.90" stroke="#6a6a6a" stroke-width="1" />
<line x1="80.40" y1="200.70" x2="80.40" y2="203.30" stroke="#6a6a6a" stroke-width="1" />
<line x1="93.40" y1="396.50" x2="93.40" y2="394.94" stroke="#6a6a6a" stroke-width="1" />
<line x1="101.01" y1="396.50" x2="101.01" y2="394.94" stroke="#6a6a6a" stroke-width="1" />
<line x1="106.41" y1="396.50" x2="106.41" y2="394.94" stroke="#6a6a6a" stroke-width="1" />
<line x1="110.60" y1="396.50" x2="110.60" y2="394.94" stroke="#6a6a6a" stroke-width="1" />
<line x1="114.02" y1="396.50" x2="114.02" y2="394.94" stroke="#6a6a6a" stroke-width="1" />
<line x1="116.91" y1="396.50" x2="116.91" y2="394.94" stroke="#6a6a6a" stroke-width="1" />
<line x1="119.41" y1="396.50" x2="119.41" y2="394.94" stroke="#6a6a6a" stroke-width="1" />
<line x1="121.62" y1="396.50" x2="121.62" y2="394.94" stroke="#6a6a6a" stroke-width="1" />
<text x="79.60" y="405.0" font-size="8.2" text-anchor="middle" fill="#3a3a3a" font-family='"Liberation Sans", Arial, sans-serif' dominant-baseline="central">10<tspan font-size="5" dy="-2.6">2</tspan></text>
<line x1="123.60" y1="396.50" x2="123.60" y2="393.90" stroke="#6a6a6a" stroke-width="1" />
<line x1="123.60" y1="200.70" x2="123.60" y2="203.30" stroke="#6a6a6a" stroke-width="1" />
<line x1="136.60" y1="396.50" x2="136.60" y2="394.94" stroke="#6a6a6a" stroke-width="1" />
<line x1="144.21" y1="396.50" x2="144.21" y2="394.94" stroke="#6a6a6a" stroke-width="1" />
<line x1="149.61" y1="396.50" x2="149.61" y2="394.94" stroke="#6a6a6a" stroke-width="1" />
<line x1="153.80" y1="396.50" x2="153.80" y2="394.94" stroke="#6a6a6a" stroke-width="1" />
<line x1="157.22" y1="396.50" x2="157.22" y2="394.94" stroke="#6a6a6a" stroke-width="1" />
<line x1="160.11" y1="396.50" x2="160.11" y2="394.94" stroke="#6a6a6a" stroke-width="1" />
<line x1="162.61" y1="396.50" x2="162.61" y2="394.94" stroke="#6a6a6a" stroke-width="1" />
<line x1="164.82" y1="396.50" x2="164.82" y2="394.94" stroke="#6a6a6a" stroke-width="1" />
<text x="122.80" y="405.0" font-size="8.2" text-anchor="middle" fill="#3a3a3a" font-family='"Liberation Sans", Arial, sans-serif' dominant-baseline="central">10<tspan font-size="5" dy="-2.6">3</tspan></text>
<line x1="166.80" y1="396.50" x2="166.80" y2="393.90" stroke="#6a6a6a" stroke-width="1" />
<line x1="166.80" y1="200.70" x2="166.80" y2="203.30" stroke="#6a6a6a" stroke-width="1" />
<line x1="179.80" y1="396.50" x2="179.80" y2="394.94" stroke="#6a6a6a" stroke-width="1" />
<line x1="187.41" y1="396.50" x2="187.41" y2="394.94" stroke="#6a6a6a" stroke-width="1" />
<line x1="192.81" y1="396.50" x2="192.81" y2="394.94" stroke="#6a6a6a" stroke-width="1" />
<line x1="197.00" y1="396.50" x2="197.00" y2="394.94" stroke="#6a6a6a" stroke-width="1" />
<line x1="200.42" y1="396.50" x2="200.42" y2="394.94" stroke="#6a6a6a" stroke-width="1" />
<line x1="203.31" y1="396.50" x2="203.31" y2="394.94" stroke="#6a6a6a" stroke-width="1" />
<line x1="205.81" y1="396.50" x2="205.81" y2="394.94" stroke="#6a6a6a" stroke-width="1" />
<line x1="208.02" y1="396.50" x2="208.02" y2="394.94" stroke="#6a6a6a" stroke-width="1" />
<text x="166.00" y="405.0" font-size="8.2" text-anchor="middle" fill="#3a3a3a" font-family='"Liberation Sans", Arial, sans-serif' dominant-baseline="central">10<tspan font-size="5" dy="-2.6">4</tspan></text>
<line x1="210.00" y1="396.50" x2="210.00" y2="393.90" stroke="#6a6a6a" stroke-width="1" />
<line x1="210.00" y1="200.70" x2="210.00" y2="203.30" stroke="#6a6a6a" stroke-width="1" />
<line x1="223.00" y1="396.50" x2="223.00" y2="394.94" stroke="#6a6a6a" stroke-width="1" />
<line x1="230.61" y1="396.50" x2="230.61" y2="394.94" stroke="#6a6a6a" stroke-width="1" />
<line x1="236.01" y1="396.50" x2="236.01" y2="394.94" stroke="#6a6a6a" stroke-width="1" />
<line x1="240.20" y1="396.50" x2="240.20" y2="394.94" stroke="#6a6a6a" stroke-width="1" />
<line x1="243.62" y1="396.50" x2="243.62" y2="394.94" stroke="#6a6a6a" stroke-width="1" />
<line x1="246.51" y1="396.50" x2="246.51" y2="394.94" stroke="#6a6a6a" stroke-width="1" />
<line x1="249.01" y1="396.50" x2="249.01" y2="394.94" stroke="#6a6a6a" stroke-width="1" />
<line x1="251.22" y1="396.50" x2="251.22" y2="394.94" stroke="#6a6a6a" stroke-width="1" />
<text x="209.20" y="405.0" font-size="8.2" text-anchor="middle" fill="#3a3a3a" font-family='"Liberation Sans", Arial, sans-serif' dominant-baseline="central">10<tspan font-size="5" dy="-2.6">5</tspan></text>
<line x1="253.20" y1="396.50" x2="253.20" y2="393.90" stroke="#6a6a6a" stroke-width="1" />
<line x1="253.20" y1="200.70" x2="253.20" y2="203.30" stroke="#6a6a6a" stroke-width="1" />
<line x1="266.20" y1="396.50" x2="266.20" y2="394.94" stroke="#6a6a6a" stroke-width="1" />
<line x1="273.81" y1="396.50" x2="273.81" y2="394.94" stroke="#6a6a6a" stroke-width="1" />
<line x1="279.21" y1="396.50" x2="279.21" y2="394.94" stroke="#6a6a6a" stroke-width="1" />
<line x1="283.40" y1="396.50" x2="283.40" y2="394.94" stroke="#6a6a6a" stroke-width="1" />
<line x1="286.82" y1="396.50" x2="286.82" y2="394.94" stroke="#6a6a6a" stroke-width="1" />
<line x1="289.71" y1="396.50" x2="289.71" y2="394.94" stroke="#6a6a6a" stroke-width="1" />
<line x1="292.21" y1="396.50" x2="292.21" y2="394.94" stroke="#6a6a6a" stroke-width="1" />
<line x1="294.42" y1="396.50" x2="294.42" y2="394.94" stroke="#6a6a6a" stroke-width="1" />
<text x="252.40" y="405.0" font-size="8.2" text-anchor="middle" fill="#3a3a3a" font-family='"Liberation Sans", Arial, sans-serif' dominant-baseline="central">10<tspan font-size="5" dy="-2.6">6</tspan></text>
<line x1="296.40" y1="396.50" x2="296.40" y2="393.90" stroke="#6a6a6a" stroke-width="1" />
<line x1="296.40" y1="200.70" x2="296.40" y2="203.30" stroke="#6a6a6a" stroke-width="1" />
<text x="295.60" y="405.0" font-size="8.2" text-anchor="middle" fill="#3a3a3a" font-family='"Liberation Sans", Arial, sans-serif' dominant-baseline="central">10<tspan font-size="5" dy="-2.6">7</tspan></text>
<text x="81.20" y="194.80" font-size="8.2" text-anchor="middle" fill="#3a3a3a" font-weight="normal" font-family='"Liberation Sans", Arial, sans-serif' dominant-baseline="central" stroke="#3a3a3a" stroke-width="0.1" >0.0056</text>
<text x="128.80" y="194.80" font-size="8.2" text-anchor="middle" fill="#3a3a3a" font-weight="normal" font-family='"Liberation Sans", Arial, sans-serif' dominant-baseline="central" stroke="#3a3a3a" stroke-width="0.1" >0.056</text>
<text x="171.50" y="194.80" font-size="8.2" text-anchor="middle" fill="#3a3a3a" font-weight="normal" font-family='"Liberation Sans", Arial, sans-serif' dominant-baseline="central" stroke="#3a3a3a" stroke-width="0.1" >0.56</text>
<text x="212.30" y="194.80" font-size="8.2" text-anchor="middle" fill="#3a3a3a" font-weight="normal" font-family='"Liberation Sans", Arial, sans-serif' dominant-baseline="central" stroke="#3a3a3a" stroke-width="0.1" >5.6</text>
<text x="252.20" y="194.80" font-size="8.2" text-anchor="middle" fill="#3a3a3a" font-weight="normal" font-family='"Liberation Sans", Arial, sans-serif' dominant-baseline="central" stroke="#3a3a3a" stroke-width="0.1" >56</text>
<text x="295.00" y="194.80" font-size="8.2" text-anchor="middle" fill="#3a3a3a" font-weight="normal" font-family='"Liberation Sans", Arial, sans-serif' dominant-baseline="central" stroke="#3a3a3a" stroke-width="0.1" >556</text>
<text x="177.30" y="184.40" font-size="8.2" text-anchor="middle" fill="#3a3a3a" font-weight="normal" font-family='"Liberation Sans", Arial, sans-serif' dominant-baseline="central" stroke="#3a3a3a" stroke-width="0.1" >Ratchetting time, hours</text>
<text x="171.20" y="416.30" font-size="8.2" text-anchor="middle" fill="#3a3a3a" font-weight="normal" font-family='"Liberation Sans", Arial, sans-serif' dominant-baseline="central" stroke="#3a3a3a" stroke-width="0.1" >Number of ratchetting cycles, <tspan font-style="italic">N</tspan></text>
<text x="5.00" y="303.60" font-size="8.2" text-anchor="middle" fill="#3a3a3a" font-weight="normal" font-family='"Liberation Sans", Arial, sans-serif' dominant-baseline="central" stroke="#3a3a3a" stroke-width="0.1" transform="rotate(-90 5.0 303.6)">Ratchetting strain (%)</text>
<text x="43.00" y="209.60" font-size="10.5" text-anchor="middle" fill="#111" font-weight="bold" font-family='"Liberation Sans", Arial, sans-serif' dominant-baseline="central" stroke="#111" stroke-width="0.1" >E</text>
<line x1="37.20" y1="392.50" x2="37.20" y2="396.20" stroke="#7a7a8a" stroke-width="0.55" />
<line x1="50.20" y1="392.50" x2="50.20" y2="396.20" stroke="#7a7a8a" stroke-width="0.55" />
<line x1="57.81" y1="392.50" x2="57.81" y2="396.20" stroke="#7a7a8a" stroke-width="0.55" />
<line x1="63.21" y1="392.50" x2="63.21" y2="396.20" stroke="#7a7a8a" stroke-width="0.55" />
<line x1="67.40" y1="392.50" x2="67.40" y2="396.20" stroke="#7a7a8a" stroke-width="0.55" />
<line x1="70.82" y1="392.50" x2="70.82" y2="396.20" stroke="#7a7a8a" stroke-width="0.55" />
<line x1="73.71" y1="392.50" x2="73.71" y2="396.20" stroke="#7a7a8a" stroke-width="0.55" />
<line x1="76.21" y1="392.50" x2="76.21" y2="396.20" stroke="#7a7a8a" stroke-width="0.55" />
<line x1="78.42" y1="392.50" x2="78.42" y2="396.20" stroke="#7a7a8a" stroke-width="0.55" />
<line x1="80.40" y1="392.50" x2="80.40" y2="396.20" stroke="#7a7a8a" stroke-width="0.55" />
<line x1="93.40" y1="392.50" x2="93.40" y2="396.20" stroke="#7a7a8a" stroke-width="0.55" />
<line x1="101.01" y1="392.50" x2="101.01" y2="396.20" stroke="#7a7a8a" stroke-width="0.55" />
<line x1="106.41" y1="392.50" x2="106.41" y2="396.20" stroke="#7a7a8a" stroke-width="0.55" />
<line x1="110.60" y1="392.50" x2="110.60" y2="396.20" stroke="#7a7a8a" stroke-width="0.55" />
<line x1="114.02" y1="392.50" x2="114.02" y2="396.20" stroke="#7a7a8a" stroke-width="0.55" />
<line x1="116.91" y1="392.50" x2="116.91" y2="396.20" stroke="#7a7a8a" stroke-width="0.55" />
<line x1="119.41" y1="392.50" x2="119.41" y2="396.20" stroke="#7a7a8a" stroke-width="0.55" />
<line x1="121.62" y1="392.50" x2="121.62" y2="396.20" stroke="#7a7a8a" stroke-width="0.55" />
<line x1="123.60" y1="392.50" x2="123.60" y2="396.20" stroke="#7a7a8a" stroke-width="0.55" />
<line x1="136.60" y1="392.50" x2="136.60" y2="396.20" stroke="#7a7a8a" stroke-width="0.55" />
<line x1="144.21" y1="392.50" x2="144.21" y2="396.20" stroke="#7a7a8a" stroke-width="0.55" />
<line x1="149.61" y1="392.50" x2="149.61" y2="396.20" stroke="#7a7a8a" stroke-width="0.55" />
<line x1="153.80" y1="392.50" x2="153.80" y2="396.20" stroke="#7a7a8a" stroke-width="0.55" />
<line x1="157.22" y1="392.50" x2="157.22" y2="396.20" stroke="#7a7a8a" stroke-width="0.55" />
<line x1="160.11" y1="392.50" x2="160.11" y2="396.20" stroke="#7a7a8a" stroke-width="0.55" />
<line x1="162.61" y1="392.50" x2="162.61" y2="396.20" stroke="#7a7a8a" stroke-width="0.55" />
<line x1="164.82" y1="392.50" x2="164.82" y2="396.20" stroke="#7a7a8a" stroke-width="0.55" />
<line x1="166.80" y1="392.50" x2="166.80" y2="396.20" stroke="#7a7a8a" stroke-width="0.55" />
<line x1="179.80" y1="392.50" x2="179.80" y2="396.20" stroke="#7a7a8a" stroke-width="0.55" />
<line x1="187.41" y1="392.50" x2="187.41" y2="396.20" stroke="#7a7a8a" stroke-width="0.55" />
<line x1="192.81" y1="392.50" x2="192.81" y2="396.20" stroke="#7a7a8a" stroke-width="0.55" />
<line x1="197.00" y1="392.50" x2="197.00" y2="396.20" stroke="#7a7a8a" stroke-width="0.55" />
<line x1="200.42" y1="392.50" x2="200.42" y2="396.20" stroke="#7a7a8a" stroke-width="0.55" />
<line x1="203.31" y1="392.50" x2="203.31" y2="396.20" stroke="#7a7a8a" stroke-width="0.55" />
<line x1="205.81" y1="392.50" x2="205.81" y2="396.20" stroke="#7a7a8a" stroke-width="0.55" />
<line x1="208.02" y1="392.50" x2="208.02" y2="396.20" stroke="#7a7a8a" stroke-width="0.55" />
<line x1="210.00" y1="392.50" x2="210.00" y2="396.20" stroke="#7a7a8a" stroke-width="0.55" />
<line x1="223.00" y1="392.50" x2="223.00" y2="396.20" stroke="#7a7a8a" stroke-width="0.55" />
<line x1="230.61" y1="392.50" x2="230.61" y2="396.20" stroke="#7a7a8a" stroke-width="0.55" />
<line x1="236.01" y1="392.50" x2="236.01" y2="396.20" stroke="#7a7a8a" stroke-width="0.55" />
<line x1="240.20" y1="392.50" x2="240.20" y2="396.20" stroke="#7a7a8a" stroke-width="0.55" />
<line x1="243.62" y1="392.50" x2="243.62" y2="396.20" stroke="#7a7a8a" stroke-width="0.55" />
<line x1="246.51" y1="392.50" x2="246.51" y2="396.20" stroke="#7a7a8a" stroke-width="0.55" />
<line x1="249.01" y1="392.50" x2="249.01" y2="396.20" stroke="#7a7a8a" stroke-width="0.55" />
<line x1="251.22" y1="392.50" x2="251.22" y2="396.20" stroke="#7a7a8a" stroke-width="0.55" />
<line x1="253.20" y1="392.50" x2="253.20" y2="396.20" stroke="#7a7a8a" stroke-width="0.55" />
<line x1="266.20" y1="392.50" x2="266.20" y2="396.20" stroke="#7a7a8a" stroke-width="0.55" />
<line x1="273.81" y1="392.50" x2="273.81" y2="396.20" stroke="#7a7a8a" stroke-width="0.55" />
<line x1="279.21" y1="392.50" x2="279.21" y2="396.20" stroke="#7a7a8a" stroke-width="0.55" />
<line x1="283.40" y1="392.50" x2="283.40" y2="396.20" stroke="#7a7a8a" stroke-width="0.55" />
<line x1="286.82" y1="392.50" x2="286.82" y2="396.20" stroke="#7a7a8a" stroke-width="0.55" />
<line x1="289.71" y1="392.50" x2="289.71" y2="396.20" stroke="#7a7a8a" stroke-width="0.55" />
<line x1="292.21" y1="392.50" x2="292.21" y2="396.20" stroke="#7a7a8a" stroke-width="0.55" />
<line x1="294.42" y1="392.50" x2="294.42" y2="396.20" stroke="#7a7a8a" stroke-width="0.55" />
<line x1="296.40" y1="392.50" x2="296.40" y2="396.20" stroke="#7a7a8a" stroke-width="0.55" />
<polygon points="37.20,383.10 40.50,388.90 33.90,388.90" fill="#1f8a3d" stroke="#1f8a3d" stroke-width="0.3" opacity="1"/>
<polygon points="50.20,383.10 53.50,388.90 46.90,388.90" fill="#1f8a3d" stroke="#1f8a3d" stroke-width="0.3" opacity="1"/>
<polygon points="57.81,383.10 61.11,388.90 54.51,388.90" fill="#1f8a3d" stroke="#1f8a3d" stroke-width="0.3" opacity="1"/>
<polygon points="63.21,383.10 66.51,388.90 59.91,388.90" fill="#1f8a3d" stroke="#1f8a3d" stroke-width="0.3" opacity="1"/>
<polygon points="67.40,383.10 70.70,388.90 64.10,388.90" fill="#1f8a3d" stroke="#1f8a3d" stroke-width="0.3" opacity="1"/>
<polygon points="70.82,383.10 74.12,388.90 67.52,388.90" fill="#1f8a3d" stroke="#1f8a3d" stroke-width="0.3" opacity="1"/>
<polygon points="73.71,383.10 77.01,388.90 70.41,388.90" fill="#1f8a3d" stroke="#1f8a3d" stroke-width="0.3" opacity="1"/>
<polygon points="76.21,383.10 79.51,388.90 72.91,388.90" fill="#1f8a3d" stroke="#1f8a3d" stroke-width="0.3" opacity="1"/>
<polygon points="78.42,383.10 81.72,388.90 75.12,388.90" fill="#1f8a3d" stroke="#1f8a3d" stroke-width="0.3" opacity="1"/>
<polygon points="80.40,383.10 83.70,388.90 77.10,388.90" fill="#1f8a3d" stroke="#1f8a3d" stroke-width="0.3" opacity="1"/>
<polygon points="93.40,383.10 96.70,388.90 90.10,388.90" fill="#1f8a3d" stroke="#1f8a3d" stroke-width="0.3" opacity="1"/>
<polygon points="101.01,383.10 104.31,388.90 97.71,388.90" fill="#1f8a3d" stroke="#1f8a3d" stroke-width="0.3" opacity="1"/>
<polygon points="106.41,383.10 109.71,388.90 103.11,388.90" fill="#1f8a3d" stroke="#1f8a3d" stroke-width="0.3" opacity="1"/>
<polygon points="110.60,383.10 113.90,388.90 107.30,388.90" fill="#1f8a3d" stroke="#1f8a3d" stroke-width="0.3" opacity="1"/>
<polygon points="114.02,383.10 117.32,388.90 110.72,388.90" fill="#1f8a3d" stroke="#1f8a3d" stroke-width="0.3" opacity="1"/>
<polygon points="116.91,383.10 120.21,388.90 113.61,388.90" fill="#1f8a3d" stroke="#1f8a3d" stroke-width="0.3" opacity="1"/>
<polygon points="119.41,383.10 122.71,388.90 116.11,388.90" fill="#1f8a3d" stroke="#1f8a3d" stroke-width="0.3" opacity="1"/>
<polygon points="121.62,383.10 124.92,388.90 118.32,388.90" fill="#1f8a3d" stroke="#1f8a3d" stroke-width="0.3" opacity="1"/>
<polygon points="123.60,381.40 126.90,387.20 120.30,387.20" fill="#1f8a3d" stroke="#1f8a3d" stroke-width="0.3" opacity="1"/>
<polygon points="136.60,381.40 139.90,387.20 133.30,387.20" fill="#1f8a3d" stroke="#1f8a3d" stroke-width="0.3" opacity="1"/>
<polygon points="144.21,381.40 147.51,387.20 140.91,387.20" fill="#1f8a3d" stroke="#1f8a3d" stroke-width="0.3" opacity="1"/>
<polygon points="149.61,381.40 152.91,387.20 146.31,387.20" fill="#1f8a3d" stroke="#1f8a3d" stroke-width="0.3" opacity="1"/>
<polygon points="153.80,381.40 157.10,387.20 150.50,387.20" fill="#1f8a3d" stroke="#1f8a3d" stroke-width="0.3" opacity="1"/>
<polygon points="157.22,381.40 160.52,387.20 153.92,387.20" fill="#1f8a3d" stroke="#1f8a3d" stroke-width="0.3" opacity="1"/>
<polygon points="160.11,381.40 163.41,387.20 156.81,387.20" fill="#1f8a3d" stroke="#1f8a3d" stroke-width="0.3" opacity="1"/>
<polygon points="162.61,381.40 165.91,387.20 159.31,387.20" fill="#1f8a3d" stroke="#1f8a3d" stroke-width="0.3" opacity="1"/>
<polygon points="164.82,381.40 168.12,387.20 161.52,387.20" fill="#1f8a3d" stroke="#1f8a3d" stroke-width="0.3" opacity="1"/>
<polygon points="166.80,381.40 170.10,387.20 163.50,387.20" fill="#1f8a3d" stroke="#1f8a3d" stroke-width="0.3" opacity="1"/>
<polygon points="179.80,381.40 183.10,387.20 176.50,387.20" fill="#1f8a3d" stroke="#1f8a3d" stroke-width="0.3" opacity="1"/>
<polygon points="187.41,381.40 190.71,387.20 184.11,387.20" fill="#1f8a3d" stroke="#1f8a3d" stroke-width="0.3" opacity="1"/>
<polygon points="192.81,381.40 196.11,387.20 189.51,387.20" fill="#1f8a3d" stroke="#1f8a3d" stroke-width="0.3" opacity="1"/>
<polygon points="197.00,381.40 200.30,387.20 193.70,387.20" fill="#1f8a3d" stroke="#1f8a3d" stroke-width="0.3" opacity="1"/>
<polygon points="200.42,381.40 203.72,387.20 197.12,387.20" fill="#1f8a3d" stroke="#1f8a3d" stroke-width="0.3" opacity="1"/>
<polygon points="203.31,381.40 206.61,387.20 200.01,387.20" fill="#1f8a3d" stroke="#1f8a3d" stroke-width="0.3" opacity="1"/>
<polygon points="205.81,381.40 209.11,387.20 202.51,387.20" fill="#1f8a3d" stroke="#1f8a3d" stroke-width="0.3" opacity="1"/>
<polygon points="208.02,381.40 211.32,387.20 204.72,387.20" fill="#1f8a3d" stroke="#1f8a3d" stroke-width="0.3" opacity="1"/>
<polygon points="210.00,381.40 213.30,387.20 206.70,387.20" fill="#1f8a3d" stroke="#1f8a3d" stroke-width="0.3" opacity="1"/>
<polygon points="223.00,379.30 226.30,385.10 219.70,385.10" fill="#1f8a3d" stroke="#1f8a3d" stroke-width="0.3" opacity="1"/>
<polygon points="230.61,379.30 233.91,385.10 227.31,385.10" fill="#1f8a3d" stroke="#1f8a3d" stroke-width="0.3" opacity="1"/>
<polygon points="236.01,379.30 239.31,385.10 232.71,385.10" fill="#1f8a3d" stroke="#1f8a3d" stroke-width="0.3" opacity="1"/>
<polygon points="240.20,379.30 243.50,385.10 236.90,385.10" fill="#1f8a3d" stroke="#1f8a3d" stroke-width="0.3" opacity="1"/>
<polygon points="243.62,379.30 246.92,385.10 240.32,385.10" fill="#1f8a3d" stroke="#1f8a3d" stroke-width="0.3" opacity="1"/>
<polygon points="246.51,379.30 249.81,385.10 243.21,385.10" fill="#1f8a3d" stroke="#1f8a3d" stroke-width="0.3" opacity="1"/>
<polygon points="249.01,379.30 252.31,385.10 245.71,385.10" fill="#1f8a3d" stroke="#1f8a3d" stroke-width="0.3" opacity="1"/>
<polygon points="251.22,379.30 254.52,385.10 247.92,385.10" fill="#1f8a3d" stroke="#1f8a3d" stroke-width="0.3" opacity="1"/>
<polygon points="253.20,379.30 256.50,385.10 249.90,385.10" fill="#1f8a3d" stroke="#1f8a3d" stroke-width="0.3" opacity="1"/>
<polygon points="266.20,379.30 269.50,385.10 262.90,385.10" fill="#1f8a3d" stroke="#1f8a3d" stroke-width="0.3" opacity="1"/>
<polygon points="273.81,379.30 277.11,385.10 270.51,385.10" fill="#1f8a3d" stroke="#1f8a3d" stroke-width="0.3" opacity="1"/>
<polygon points="279.21,379.30 282.51,385.10 275.91,385.10" fill="#1f8a3d" stroke="#1f8a3d" stroke-width="0.3" opacity="1"/>
<polygon points="283.40,379.30 286.70,385.10 280.10,385.10" fill="#1f8a3d" stroke="#1f8a3d" stroke-width="0.3" opacity="1"/>
<polygon points="286.82,379.30 290.12,385.10 283.52,385.10" fill="#1f8a3d" stroke="#1f8a3d" stroke-width="0.3" opacity="1"/>
<polygon points="289.71,379.30 293.01,385.10 286.41,385.10" fill="#1f8a3d" stroke="#1f8a3d" stroke-width="0.3" opacity="1"/>
<polygon points="292.21,379.30 295.51,385.10 288.91,385.10" fill="#1f8a3d" stroke="#1f8a3d" stroke-width="0.3" opacity="1"/>
<polygon points="294.42,379.30 297.72,385.10 291.12,385.10" fill="#1f8a3d" stroke="#1f8a3d" stroke-width="0.3" opacity="1"/>
<polygon points="296.40,379.30 299.70,385.10 293.10,385.10" fill="#1f8a3d" stroke="#1f8a3d" stroke-width="0.3" opacity="1"/>
<polygon points="37.20,393.30 40.50,387.70 33.90,387.70" fill="#1f4c9c" stroke="#1f4c9c" stroke-width="0.3" opacity="1"/>
<polygon points="50.20,393.30 53.50,387.70 46.90,387.70" fill="#1f4c9c" stroke="#1f4c9c" stroke-width="0.3" opacity="1"/>
<polygon points="57.81,393.30 61.11,387.70 54.51,387.70" fill="#1f4c9c" stroke="#1f4c9c" stroke-width="0.3" opacity="1"/>
<polygon points="63.21,393.30 66.51,387.70 59.91,387.70" fill="#1f4c9c" stroke="#1f4c9c" stroke-width="0.3" opacity="1"/>
<polygon points="67.40,393.30 70.70,387.70 64.10,387.70" fill="#1f4c9c" stroke="#1f4c9c" stroke-width="0.3" opacity="1"/>
<polygon points="70.82,393.30 74.12,387.70 67.52,387.70" fill="#1f4c9c" stroke="#1f4c9c" stroke-width="0.3" opacity="1"/>
<polygon points="73.71,393.30 77.01,387.70 70.41,387.70" fill="#1f4c9c" stroke="#1f4c9c" stroke-width="0.3" opacity="1"/>
<polygon points="76.21,393.30 79.51,387.70 72.91,387.70" fill="#1f4c9c" stroke="#1f4c9c" stroke-width="0.3" opacity="1"/>
<polygon points="78.42,393.30 81.72,387.70 75.12,387.70" fill="#1f4c9c" stroke="#1f4c9c" stroke-width="0.3" opacity="1"/>
<polygon points="80.40,393.30 83.70,387.70 77.10,387.70" fill="#1f4c9c" stroke="#1f4c9c" stroke-width="0.3" opacity="1"/>
<polygon points="93.40,393.30 96.70,387.70 90.10,387.70" fill="#1f4c9c" stroke="#1f4c9c" stroke-width="0.3" opacity="1"/>
<polygon points="101.01,393.30 104.31,387.70 97.71,387.70" fill="#1f4c9c" stroke="#1f4c9c" stroke-width="0.3" opacity="1"/>
<polygon points="106.41,393.30 109.71,387.70 103.11,387.70" fill="#1f4c9c" stroke="#1f4c9c" stroke-width="0.3" opacity="1"/>
<polygon points="110.60,393.30 113.90,387.70 107.30,387.70" fill="#1f4c9c" stroke="#1f4c9c" stroke-width="0.3" opacity="1"/>
<polygon points="114.02,393.30 117.32,387.70 110.72,387.70" fill="#1f4c9c" stroke="#1f4c9c" stroke-width="0.3" opacity="1"/>
<polygon points="116.91,393.30 120.21,387.70 113.61,387.70" fill="#1f4c9c" stroke="#1f4c9c" stroke-width="0.3" opacity="1"/>
<polygon points="119.41,393.30 122.71,387.70 116.11,387.70" fill="#1f4c9c" stroke="#1f4c9c" stroke-width="0.3" opacity="1"/>
<polygon points="121.62,393.30 124.92,387.70 118.32,387.70" fill="#1f4c9c" stroke="#1f4c9c" stroke-width="0.3" opacity="1"/>
<polygon points="123.60,393.30 126.90,387.70 120.30,387.70" fill="#1f4c9c" stroke="#1f4c9c" stroke-width="0.3" opacity="1"/>
<polygon points="136.60,393.30 139.90,387.70 133.30,387.70" fill="#1f4c9c" stroke="#1f4c9c" stroke-width="0.3" opacity="1"/>
<polygon points="144.21,393.30 147.51,387.70 140.91,387.70" fill="#1f4c9c" stroke="#1f4c9c" stroke-width="0.3" opacity="1"/>
<polygon points="149.61,393.30 152.91,387.70 146.31,387.70" fill="#1f4c9c" stroke="#1f4c9c" stroke-width="0.3" opacity="1"/>
<polygon points="153.80,393.30 157.10,387.70 150.50,387.70" fill="#1f4c9c" stroke="#1f4c9c" stroke-width="0.3" opacity="1"/>
<polygon points="157.22,393.30 160.52,387.70 153.92,387.70" fill="#1f4c9c" stroke="#1f4c9c" stroke-width="0.3" opacity="1"/>
<polygon points="160.11,393.30 163.41,387.70 156.81,387.70" fill="#1f4c9c" stroke="#1f4c9c" stroke-width="0.3" opacity="1"/>
<polygon points="162.61,393.30 165.91,387.70 159.31,387.70" fill="#1f4c9c" stroke="#1f4c9c" stroke-width="0.3" opacity="1"/>
<polygon points="164.82,393.30 168.12,387.70 161.52,387.70" fill="#1f4c9c" stroke="#1f4c9c" stroke-width="0.3" opacity="1"/>
<polygon points="166.80,393.30 170.10,387.70 163.50,387.70" fill="#1f4c9c" stroke="#1f4c9c" stroke-width="0.3" opacity="1"/>
<polygon points="179.80,393.30 183.10,387.70 176.50,387.70" fill="#1f4c9c" stroke="#1f4c9c" stroke-width="0.3" opacity="1"/>
<polygon points="187.41,393.30 190.71,387.70 184.11,387.70" fill="#1f4c9c" stroke="#1f4c9c" stroke-width="0.3" opacity="1"/>
<polygon points="192.81,393.30 196.11,387.70 189.51,387.70" fill="#1f4c9c" stroke="#1f4c9c" stroke-width="0.3" opacity="1"/>
<polygon points="197.00,393.30 200.30,387.70 193.70,387.70" fill="#1f4c9c" stroke="#1f4c9c" stroke-width="0.3" opacity="1"/>
<polygon points="200.42,393.30 203.72,387.70 197.12,387.70" fill="#1f4c9c" stroke="#1f4c9c" stroke-width="0.3" opacity="1"/>
<polygon points="203.31,393.30 206.61,387.70 200.01,387.70" fill="#1f4c9c" stroke="#1f4c9c" stroke-width="0.3" opacity="1"/>
<polygon points="205.81,393.30 209.11,387.70 202.51,387.70" fill="#1f4c9c" stroke="#1f4c9c" stroke-width="0.3" opacity="1"/>
<polygon points="208.02,393.30 211.32,387.70 204.72,387.70" fill="#1f4c9c" stroke="#1f4c9c" stroke-width="0.3" opacity="1"/>
<polygon points="210.00,393.30 213.30,387.70 206.70,387.70" fill="#1f4c9c" stroke="#1f4c9c" stroke-width="0.3" opacity="1"/>
<polygon points="223.00,393.30 226.30,387.70 219.70,387.70" fill="#1f4c9c" stroke="#1f4c9c" stroke-width="0.3" opacity="1"/>
<polygon points="230.61,393.30 233.91,387.70 227.31,387.70" fill="#1f4c9c" stroke="#1f4c9c" stroke-width="0.3" opacity="1"/>
<polygon points="236.01,393.30 239.31,387.70 232.71,387.70" fill="#1f4c9c" stroke="#1f4c9c" stroke-width="0.3" opacity="1"/>
<polygon points="240.20,393.30 243.50,387.70 236.90,387.70" fill="#1f4c9c" stroke="#1f4c9c" stroke-width="0.3" opacity="1"/>
<polygon points="243.62,393.30 246.92,387.70 240.32,387.70" fill="#1f4c9c" stroke="#1f4c9c" stroke-width="0.3" opacity="1"/>
<polygon points="246.51,393.30 249.81,387.70 243.21,387.70" fill="#1f4c9c" stroke="#1f4c9c" stroke-width="0.3" opacity="1"/>
<polygon points="249.01,393.30 252.31,387.70 245.71,387.70" fill="#1f4c9c" stroke="#1f4c9c" stroke-width="0.3" opacity="1"/>
<polygon points="251.22,393.30 254.52,387.70 247.92,387.70" fill="#1f4c9c" stroke="#1f4c9c" stroke-width="0.3" opacity="1"/>
<polygon points="253.20,393.30 256.50,387.70 249.90,387.70" fill="#1f4c9c" stroke="#1f4c9c" stroke-width="0.3" opacity="1"/>
<polygon points="266.20,393.30 269.50,387.70 262.90,387.70" fill="#1f4c9c" stroke="#1f4c9c" stroke-width="0.3" opacity="1"/>
<polygon points="273.81,393.30 277.11,387.70 270.51,387.70" fill="#1f4c9c" stroke="#1f4c9c" stroke-width="0.3" opacity="1"/>
<polygon points="279.21,393.30 282.51,387.70 275.91,387.70" fill="#1f4c9c" stroke="#1f4c9c" stroke-width="0.3" opacity="1"/>
<polygon points="283.40,393.30 286.70,387.70 280.10,387.70" fill="#1f4c9c" stroke="#1f4c9c" stroke-width="0.3" opacity="1"/>
<polygon points="286.82,393.30 290.12,387.70 283.52,387.70" fill="#1f4c9c" stroke="#1f4c9c" stroke-width="0.3" opacity="1"/>
<polygon points="289.71,393.30 293.01,387.70 286.41,387.70" fill="#1f4c9c" stroke="#1f4c9c" stroke-width="0.3" opacity="1"/>
<polygon points="292.21,393.30 295.51,387.70 288.91,387.70" fill="#1f4c9c" stroke="#1f4c9c" stroke-width="0.3" opacity="1"/>
<polygon points="294.42,393.30 297.72,387.70 291.12,387.70" fill="#1f4c9c" stroke="#1f4c9c" stroke-width="0.3" opacity="1"/>
<polygon points="296.40,393.30 299.70,387.70 293.10,387.70" fill="#1f4c9c" stroke="#1f4c9c" stroke-width="0.3" opacity="1"/>
<polygon points="37.20,382.80 40.40,386.00 37.20,389.20 34.00,386.00" fill="#e42a1f" stroke="#e42a1f" stroke-width="0.3" opacity="1"/>
<polygon points="50.20,381.00 53.40,384.20 50.20,387.40 47.00,384.20" fill="#e42a1f" stroke="#e42a1f" stroke-width="0.3" opacity="1"/>
<polygon points="57.81,378.90 61.01,382.10 57.81,385.30 54.61,382.10" fill="#e42a1f" stroke="#e42a1f" stroke-width="0.3" opacity="1"/>
<polygon points="63.21,377.87 66.41,381.07 63.21,384.27 60.01,381.07" fill="#e42a1f" stroke="#e42a1f" stroke-width="0.3" opacity="1"/>
<polygon points="67.40,377.08 70.60,380.28 67.40,383.48 64.20,380.28" fill="#e42a1f" stroke="#e42a1f" stroke-width="0.3" opacity="1"/>
<polygon points="70.82,376.42 74.02,379.62 70.82,382.82 67.62,379.62" fill="#e42a1f" stroke="#e42a1f" stroke-width="0.3" opacity="1"/>
<polygon points="73.71,375.87 76.91,379.07 73.71,382.27 70.51,379.07" fill="#e42a1f" stroke="#e42a1f" stroke-width="0.3" opacity="1"/>
<polygon points="76.21,375.40 79.41,378.60 76.21,381.80 73.01,378.60" fill="#e42a1f" stroke="#e42a1f" stroke-width="0.3" opacity="1"/>
<polygon points="78.42,374.98 81.62,378.18 78.42,381.38 75.22,378.18" fill="#e42a1f" stroke="#e42a1f" stroke-width="0.3" opacity="1"/>
<polygon points="80.40,374.60 83.60,377.80 80.40,381.00 77.20,377.80" fill="#e42a1f" stroke="#e42a1f" stroke-width="0.3" opacity="1"/>
<polygon points="93.40,373.80 96.60,377.00 93.40,380.20 90.20,377.00" fill="#e42a1f" stroke="#e42a1f" stroke-width="0.3" opacity="1"/>
<polygon points="101.01,373.20 104.21,376.40 101.01,379.60 97.81,376.40" fill="#e42a1f" stroke="#e42a1f" stroke-width="0.3" opacity="1"/>
<polygon points="106.41,372.77 109.61,375.97 106.41,379.17 103.21,375.97" fill="#e42a1f" stroke="#e42a1f" stroke-width="0.3" opacity="1"/>
<polygon points="110.60,372.43 113.80,375.63 110.60,378.83 107.40,375.63" fill="#e42a1f" stroke="#e42a1f" stroke-width="0.3" opacity="1"/>
<polygon points="114.02,372.16 117.22,375.36 114.02,378.56 110.82,375.36" fill="#e42a1f" stroke="#e42a1f" stroke-width="0.3" opacity="1"/>
<polygon points="116.91,371.93 120.11,375.13 116.91,378.33 113.71,375.13" fill="#e42a1f" stroke="#e42a1f" stroke-width="0.3" opacity="1"/>
<polygon points="119.41,371.73 122.61,374.93 119.41,378.13 116.21,374.93" fill="#e42a1f" stroke="#e42a1f" stroke-width="0.3" opacity="1"/>
<polygon points="121.62,371.56 124.82,374.76 121.62,377.96 118.42,374.76" fill="#e42a1f" stroke="#e42a1f" stroke-width="0.3" opacity="1"/>
<polygon points="123.60,371.40 126.80,374.60 123.60,377.80 120.40,374.60" fill="#e42a1f" stroke="#e42a1f" stroke-width="0.3" opacity="1"/>
<polygon points="136.60,370.80 139.80,374.00 136.60,377.20 133.40,374.00" fill="#e42a1f" stroke="#e42a1f" stroke-width="0.3" opacity="1"/>
<polygon points="144.21,370.35 147.41,373.55 144.21,376.75 141.01,373.55" fill="#e42a1f" stroke="#e42a1f" stroke-width="0.3" opacity="1"/>
<polygon points="149.61,370.02 152.81,373.22 149.61,376.42 146.41,373.22" fill="#e42a1f" stroke="#e42a1f" stroke-width="0.3" opacity="1"/>
<polygon points="153.80,369.78 157.00,372.98 153.80,376.18 150.60,372.98" fill="#e42a1f" stroke="#e42a1f" stroke-width="0.3" opacity="1"/>
<polygon points="157.22,369.57 160.42,372.77 157.22,375.97 154.02,372.77" fill="#e42a1f" stroke="#e42a1f" stroke-width="0.3" opacity="1"/>
<polygon points="160.11,369.40 163.31,372.60 160.11,375.80 156.91,372.60" fill="#e42a1f" stroke="#e42a1f" stroke-width="0.3" opacity="1"/>
<polygon points="162.61,369.25 165.81,372.45 162.61,375.65 159.41,372.45" fill="#e42a1f" stroke="#e42a1f" stroke-width="0.3" opacity="1"/>
<polygon points="164.82,369.12 168.02,372.32 164.82,375.52 161.62,372.32" fill="#e42a1f" stroke="#e42a1f" stroke-width="0.3" opacity="1"/>
<polygon points="166.80,369.00 170.00,372.20 166.80,375.40 163.60,372.20" fill="#e42a1f" stroke="#e42a1f" stroke-width="0.3" opacity="1"/>
<polygon points="179.80,369.00 183.00,372.20 179.80,375.40 176.60,372.20" fill="#e42a1f" stroke="#e42a1f" stroke-width="0.3" opacity="1"/>
<polygon points="187.41,368.55 190.61,371.75 187.41,374.95 184.21,371.75" fill="#e42a1f" stroke="#e42a1f" stroke-width="0.3" opacity="1"/>
<polygon points="192.81,368.22 196.01,371.42 192.81,374.62 189.61,371.42" fill="#e42a1f" stroke="#e42a1f" stroke-width="0.3" opacity="1"/>
<polygon points="197.00,367.98 200.20,371.18 197.00,374.38 193.80,371.18" fill="#e42a1f" stroke="#e42a1f" stroke-width="0.3" opacity="1"/>
<polygon points="200.42,367.77 203.62,370.97 200.42,374.17 197.22,370.97" fill="#e42a1f" stroke="#e42a1f" stroke-width="0.3" opacity="1"/>
<polygon points="203.31,367.60 206.51,370.80 203.31,374.00 200.11,370.80" fill="#e42a1f" stroke="#e42a1f" stroke-width="0.3" opacity="1"/>
<polygon points="205.81,367.45 209.01,370.65 205.81,373.85 202.61,370.65" fill="#e42a1f" stroke="#e42a1f" stroke-width="0.3" opacity="1"/>
<polygon points="208.02,367.32 211.22,370.52 208.02,373.72 204.82,370.52" fill="#e42a1f" stroke="#e42a1f" stroke-width="0.3" opacity="1"/>
<polygon points="210.00,367.20 213.20,370.40 210.00,373.60 206.80,370.40" fill="#e42a1f" stroke="#e42a1f" stroke-width="0.3" opacity="1"/>
<polygon points="223.00,366.70 226.20,369.90 223.00,373.10 219.80,369.90" fill="#e42a1f" stroke="#e42a1f" stroke-width="0.3" opacity="1"/>
<polygon points="230.61,366.35 233.81,369.55 230.61,372.75 227.41,369.55" fill="#e42a1f" stroke="#e42a1f" stroke-width="0.3" opacity="1"/>
<polygon points="236.01,366.10 239.21,369.30 236.01,372.50 232.81,369.30" fill="#e42a1f" stroke="#e42a1f" stroke-width="0.3" opacity="1"/>
<polygon points="240.20,365.90 243.40,369.10 240.20,372.30 237.00,369.10" fill="#e42a1f" stroke="#e42a1f" stroke-width="0.3" opacity="1"/>
<polygon points="243.62,365.74 246.82,368.94 243.62,372.14 240.42,368.94" fill="#e42a1f" stroke="#e42a1f" stroke-width="0.3" opacity="1"/>
<polygon points="246.51,365.61 249.71,368.81 246.51,372.01 243.31,368.81" fill="#e42a1f" stroke="#e42a1f" stroke-width="0.3" opacity="1"/>
<polygon points="249.01,365.49 252.21,368.69 249.01,371.89 245.81,368.69" fill="#e42a1f" stroke="#e42a1f" stroke-width="0.3" opacity="1"/>
<polygon points="251.22,365.39 254.42,368.59 251.22,371.79 248.02,368.59" fill="#e42a1f" stroke="#e42a1f" stroke-width="0.3" opacity="1"/>
<polygon points="253.20,365.30 256.40,368.50 253.20,371.70 250.00,368.50" fill="#e42a1f" stroke="#e42a1f" stroke-width="0.3" opacity="1"/>
<polygon points="266.20,365.12 269.40,368.32 266.20,371.52 263.00,368.32" fill="#e42a1f" stroke="#e42a1f" stroke-width="0.3" opacity="1"/>
<polygon points="273.81,365.01 277.01,368.21 273.81,371.41 270.61,368.21" fill="#e42a1f" stroke="#e42a1f" stroke-width="0.3" opacity="1"/>
<polygon points="279.21,364.94 282.41,368.14 279.21,371.34 276.01,368.14" fill="#e42a1f" stroke="#e42a1f" stroke-width="0.3" opacity="1"/>
<polygon points="283.40,364.88 286.60,368.08 283.40,371.28 280.20,368.08" fill="#e42a1f" stroke="#e42a1f" stroke-width="0.3" opacity="1"/>
<polygon points="286.82,364.83 290.02,368.03 286.82,371.23 283.62,368.03" fill="#e42a1f" stroke="#e42a1f" stroke-width="0.3" opacity="1"/>
<polygon points="289.71,364.79 292.91,367.99 289.71,371.19 286.51,367.99" fill="#e42a1f" stroke="#e42a1f" stroke-width="0.3" opacity="1"/>
<polygon points="292.21,364.76 295.41,367.96 292.21,371.16 289.01,367.96" fill="#e42a1f" stroke="#e42a1f" stroke-width="0.3" opacity="1"/>
<polygon points="294.42,364.73 297.62,367.93 294.42,371.13 291.22,367.93" fill="#e42a1f" stroke="#e42a1f" stroke-width="0.3" opacity="1"/>
<polygon points="296.40,364.70 299.60,367.90 296.40,371.10 293.20,367.90" fill="#e42a1f" stroke="#e42a1f" stroke-width="0.3" opacity="1"/>
<circle cx="50.20" cy="368.50" r="2.7" fill="#7b1c1f" stroke="#7b1c1f" stroke-width="0.3" opacity="1"/>
<circle cx="57.81" cy="364.80" r="2.7" fill="#7b1c1f" stroke="#7b1c1f" stroke-width="0.3" opacity="1"/>
<circle cx="63.21" cy="364.08" r="2.7" fill="#7b1c1f" stroke="#7b1c1f" stroke-width="0.3" opacity="1"/>
<circle cx="67.40" cy="363.53" r="2.7" fill="#7b1c1f" stroke="#7b1c1f" stroke-width="0.3" opacity="1"/>
<circle cx="70.82" cy="363.07" r="2.7" fill="#7b1c1f" stroke="#7b1c1f" stroke-width="0.3" opacity="1"/>
<circle cx="73.71" cy="362.69" r="2.7" fill="#7b1c1f" stroke="#7b1c1f" stroke-width="0.3" opacity="1"/>
<circle cx="76.21" cy="362.36" r="2.7" fill="#7b1c1f" stroke="#7b1c1f" stroke-width="0.3" opacity="1"/>
<circle cx="78.42" cy="362.06" r="2.7" fill="#7b1c1f" stroke="#7b1c1f" stroke-width="0.3" opacity="1"/>
<circle cx="80.40" cy="361.80" r="2.7" fill="#7b1c1f" stroke="#7b1c1f" stroke-width="0.3" opacity="1"/>
<circle cx="93.40" cy="361.50" r="2.7" fill="#7b1c1f" stroke="#7b1c1f" stroke-width="0.3" opacity="1"/>
<circle cx="101.01" cy="361.27" r="2.7" fill="#7b1c1f" stroke="#7b1c1f" stroke-width="0.3" opacity="1"/>
<circle cx="106.41" cy="361.11" r="2.7" fill="#7b1c1f" stroke="#7b1c1f" stroke-width="0.3" opacity="1"/>
<circle cx="110.60" cy="360.99" r="2.7" fill="#7b1c1f" stroke="#7b1c1f" stroke-width="0.3" opacity="1"/>
<circle cx="114.02" cy="360.89" r="2.7" fill="#7b1c1f" stroke="#7b1c1f" stroke-width="0.3" opacity="1"/>
<circle cx="116.91" cy="360.80" r="2.7" fill="#7b1c1f" stroke="#7b1c1f" stroke-width="0.3" opacity="1"/>
<circle cx="119.41" cy="360.72" r="2.7" fill="#7b1c1f" stroke="#7b1c1f" stroke-width="0.3" opacity="1"/>
<circle cx="121.62" cy="360.66" r="2.7" fill="#7b1c1f" stroke="#7b1c1f" stroke-width="0.3" opacity="1"/>
<circle cx="123.60" cy="360.60" r="2.7" fill="#7b1c1f" stroke="#7b1c1f" stroke-width="0.3" opacity="1"/>
<circle cx="136.60" cy="359.90" r="2.7" fill="#7b1c1f" stroke="#7b1c1f" stroke-width="0.3" opacity="1"/>
<circle cx="144.21" cy="359.62" r="2.7" fill="#7b1c1f" stroke="#7b1c1f" stroke-width="0.3" opacity="1"/>
<circle cx="149.61" cy="359.43" r="2.7" fill="#7b1c1f" stroke="#7b1c1f" stroke-width="0.3" opacity="1"/>
<circle cx="153.80" cy="359.27" r="2.7" fill="#7b1c1f" stroke="#7b1c1f" stroke-width="0.3" opacity="1"/>
<circle cx="157.22" cy="359.15" r="2.7" fill="#7b1c1f" stroke="#7b1c1f" stroke-width="0.3" opacity="1"/>
<circle cx="160.11" cy="359.04" r="2.7" fill="#7b1c1f" stroke="#7b1c1f" stroke-width="0.3" opacity="1"/>
<circle cx="162.61" cy="358.95" r="2.7" fill="#7b1c1f" stroke="#7b1c1f" stroke-width="0.3" opacity="1"/>
<circle cx="164.82" cy="358.87" r="2.7" fill="#7b1c1f" stroke="#7b1c1f" stroke-width="0.3" opacity="1"/>
<circle cx="166.80" cy="358.80" r="2.7" fill="#7b1c1f" stroke="#7b1c1f" stroke-width="0.3" opacity="1"/>
<circle cx="179.80" cy="358.50" r="2.7" fill="#7b1c1f" stroke="#7b1c1f" stroke-width="0.3" opacity="1"/>
<circle cx="187.41" cy="358.35" r="2.7" fill="#7b1c1f" stroke="#7b1c1f" stroke-width="0.3" opacity="1"/>
<circle cx="192.81" cy="358.24" r="2.7" fill="#7b1c1f" stroke="#7b1c1f" stroke-width="0.3" opacity="1"/>
<circle cx="197.00" cy="358.16" r="2.7" fill="#7b1c1f" stroke="#7b1c1f" stroke-width="0.3" opacity="1"/>
<circle cx="200.42" cy="358.09" r="2.7" fill="#7b1c1f" stroke="#7b1c1f" stroke-width="0.3" opacity="1"/>
<circle cx="203.31" cy="358.03" r="2.7" fill="#7b1c1f" stroke="#7b1c1f" stroke-width="0.3" opacity="1"/>
<circle cx="205.81" cy="357.98" r="2.7" fill="#7b1c1f" stroke="#7b1c1f" stroke-width="0.3" opacity="1"/>
<circle cx="208.02" cy="357.94" r="2.7" fill="#7b1c1f" stroke="#7b1c1f" stroke-width="0.3" opacity="1"/>
<circle cx="210.00" cy="357.90" r="2.7" fill="#7b1c1f" stroke="#7b1c1f" stroke-width="0.3" opacity="1"/>
<circle cx="223.00" cy="357.52" r="2.7" fill="#7b1c1f" stroke="#7b1c1f" stroke-width="0.3" opacity="1"/>
<circle cx="230.61" cy="357.30" r="2.7" fill="#7b1c1f" stroke="#7b1c1f" stroke-width="0.3" opacity="1"/>
<polygon points="47.90,363.90 52.50,363.90 52.50,368.50 47.90,368.50" fill="#ffffff" stroke="#1e1e1e" stroke-width="1.15" opacity="1"/>
<polygon points="55.51,358.30 60.11,358.30 60.11,362.90 55.51,362.90" fill="#ffffff" stroke="#1e1e1e" stroke-width="1.15" opacity="1"/>
<polygon points="60.91,356.25 65.51,356.25 65.51,360.85 60.91,360.85" fill="#ffffff" stroke="#1e1e1e" stroke-width="1.15" opacity="1"/>
<polygon points="65.10,354.65 69.70,354.65 69.70,359.25 65.10,359.25" fill="#ffffff" stroke="#1e1e1e" stroke-width="1.15" opacity="1"/>
<polygon points="68.52,353.35 73.12,353.35 73.12,357.95 68.52,357.95" fill="#ffffff" stroke="#1e1e1e" stroke-width="1.15" opacity="1"/>
<polygon points="71.41,352.25 76.01,352.25 76.01,356.85 71.41,356.85" fill="#ffffff" stroke="#1e1e1e" stroke-width="1.15" opacity="1"/>
<polygon points="73.91,351.29 78.51,351.29 78.51,355.89 73.91,355.89" fill="#ffffff" stroke="#1e1e1e" stroke-width="1.15" opacity="1"/>
<polygon points="76.12,350.45 80.72,350.45 80.72,355.05 76.12,355.05" fill="#ffffff" stroke="#1e1e1e" stroke-width="1.15" opacity="1"/>
<polygon points="78.10,349.70 82.70,349.70 82.70,354.30 78.10,354.30" fill="#ffffff" stroke="#1e1e1e" stroke-width="1.15" opacity="1"/>
<polygon points="91.10,347.70 95.70,347.70 95.70,352.30 91.10,352.30" fill="#ffffff" stroke="#1e1e1e" stroke-width="1.15" opacity="1"/>
<polygon points="98.71,347.12 103.31,347.12 103.31,351.72 98.71,351.72" fill="#ffffff" stroke="#1e1e1e" stroke-width="1.15" opacity="1"/>
<polygon points="104.11,346.71 108.71,346.71 108.71,351.31 104.11,351.31" fill="#ffffff" stroke="#1e1e1e" stroke-width="1.15" opacity="1"/>
<polygon points="108.30,346.39 112.90,346.39 112.90,350.99 108.30,350.99" fill="#ffffff" stroke="#1e1e1e" stroke-width="1.15" opacity="1"/>
<polygon points="111.72,346.13 116.32,346.13 116.32,350.73 111.72,350.73" fill="#ffffff" stroke="#1e1e1e" stroke-width="1.15" opacity="1"/>
<polygon points="114.61,345.91 119.21,345.91 119.21,350.51 114.61,350.51" fill="#ffffff" stroke="#1e1e1e" stroke-width="1.15" opacity="1"/>
<polygon points="117.11,345.72 121.71,345.72 121.71,350.32 117.11,350.32" fill="#ffffff" stroke="#1e1e1e" stroke-width="1.15" opacity="1"/>
<polygon points="119.32,345.55 123.92,345.55 123.92,350.15 119.32,350.15" fill="#ffffff" stroke="#1e1e1e" stroke-width="1.15" opacity="1"/>
<polygon points="121.30,345.40 125.90,345.40 125.90,350.00 121.30,350.00" fill="#ffffff" stroke="#1e1e1e" stroke-width="1.15" opacity="1"/>
<polygon points="134.30,344.20 138.90,344.20 138.90,348.80 134.30,348.80" fill="#ffffff" stroke="#1e1e1e" stroke-width="1.15" opacity="1"/>
<polygon points="141.91,343.57 146.51,343.57 146.51,348.17 141.91,348.17" fill="#ffffff" stroke="#1e1e1e" stroke-width="1.15" opacity="1"/>
<polygon points="147.31,343.12 151.91,343.12 151.91,347.72 147.31,347.72" fill="#ffffff" stroke="#1e1e1e" stroke-width="1.15" opacity="1"/>
<polygon points="151.50,342.78 156.10,342.78 156.10,347.38 151.50,347.38" fill="#ffffff" stroke="#1e1e1e" stroke-width="1.15" opacity="1"/>
<polygon points="154.92,342.49 159.52,342.49 159.52,347.09 154.92,347.09" fill="#ffffff" stroke="#1e1e1e" stroke-width="1.15" opacity="1"/>
<polygon points="157.81,342.25 162.41,342.25 162.41,346.85 157.81,346.85" fill="#ffffff" stroke="#1e1e1e" stroke-width="1.15" opacity="1"/>
<polygon points="160.31,342.05 164.91,342.05 164.91,346.65 160.31,346.65" fill="#ffffff" stroke="#1e1e1e" stroke-width="1.15" opacity="1"/>
<polygon points="162.52,341.86 167.12,341.86 167.12,346.46 162.52,346.46" fill="#ffffff" stroke="#1e1e1e" stroke-width="1.15" opacity="1"/>
<polygon points="164.50,341.70 169.10,341.70 169.10,346.30 164.50,346.30" fill="#ffffff" stroke="#1e1e1e" stroke-width="1.15" opacity="1"/>
<polygon points="177.50,340.80 182.10,340.80 182.10,345.40 177.50,345.40" fill="#ffffff" stroke="#1e1e1e" stroke-width="1.15" opacity="1"/>
<polygon points="185.11,340.52 189.71,340.52 189.71,345.12 185.11,345.12" fill="#ffffff" stroke="#1e1e1e" stroke-width="1.15" opacity="1"/>
<polygon points="190.51,340.33 195.11,340.33 195.11,344.93 190.51,344.93" fill="#ffffff" stroke="#1e1e1e" stroke-width="1.15" opacity="1"/>
<polygon points="194.70,340.17 199.30,340.17 199.30,344.77 194.70,344.77" fill="#ffffff" stroke="#1e1e1e" stroke-width="1.15" opacity="1"/>
<polygon points="198.12,340.05 202.72,340.05 202.72,344.65 198.12,344.65" fill="#ffffff" stroke="#1e1e1e" stroke-width="1.15" opacity="1"/>
<polygon points="201.01,339.94 205.61,339.94 205.61,344.54 201.01,344.54" fill="#ffffff" stroke="#1e1e1e" stroke-width="1.15" opacity="1"/>
<polygon points="203.51,339.85 208.11,339.85 208.11,344.45 203.51,344.45" fill="#ffffff" stroke="#1e1e1e" stroke-width="1.15" opacity="1"/>
<polygon points="205.72,339.77 210.32,339.77 210.32,344.37 205.72,344.37" fill="#ffffff" stroke="#1e1e1e" stroke-width="1.15" opacity="1"/>
<polygon points="207.70,339.70 212.30,339.70 212.30,344.30 207.70,344.30" fill="#ffffff" stroke="#1e1e1e" stroke-width="1.15" opacity="1"/>
<polygon points="220.70,339.00 225.30,339.00 225.30,343.60 220.70,343.60" fill="#ffffff" stroke="#1e1e1e" stroke-width="1.15" opacity="1"/>
<polygon points="228.31,338.80 232.91,338.80 232.91,343.40 228.31,343.40" fill="#ffffff" stroke="#1e1e1e" stroke-width="1.15" opacity="1"/>
<polygon points="233.71,338.66 238.31,338.66 238.31,343.26 233.71,343.26" fill="#ffffff" stroke="#1e1e1e" stroke-width="1.15" opacity="1"/>
<polygon points="237.90,338.54 242.50,338.54 242.50,343.14 237.90,343.14" fill="#ffffff" stroke="#1e1e1e" stroke-width="1.15" opacity="1"/>
<polygon points="241.32,338.45 245.92,338.45 245.92,343.05 241.32,343.05" fill="#ffffff" stroke="#1e1e1e" stroke-width="1.15" opacity="1"/>
<polygon points="244.21,338.38 248.81,338.38 248.81,342.98 244.21,342.98" fill="#ffffff" stroke="#1e1e1e" stroke-width="1.15" opacity="1"/>
<polygon points="246.71,338.31 251.31,338.31 251.31,342.91 246.71,342.91" fill="#ffffff" stroke="#1e1e1e" stroke-width="1.15" opacity="1"/>
<polygon points="248.92,338.25 253.52,338.25 253.52,342.85 248.92,342.85" fill="#ffffff" stroke="#1e1e1e" stroke-width="1.15" opacity="1"/>
<polygon points="250.90,338.20 255.50,338.20 255.50,342.80 250.90,342.80" fill="#ffffff" stroke="#1e1e1e" stroke-width="1.15" opacity="1"/>
<polygon points="263.90,337.70 268.50,337.70 268.50,342.30 263.90,342.30" fill="#ffffff" stroke="#1e1e1e" stroke-width="1.15" opacity="1"/>
<polygon points="271.51,337.70 276.11,337.70 276.11,342.30 271.51,342.30" fill="#ffffff" stroke="#1e1e1e" stroke-width="1.15" opacity="1"/>
<polygon points="276.91,337.70 281.51,337.70 281.51,342.30 276.91,342.30" fill="#ffffff" stroke="#1e1e1e" stroke-width="1.15" opacity="1"/>
<polygon points="281.10,337.70 285.70,337.70 285.70,342.30 281.10,342.30" fill="#ffffff" stroke="#1e1e1e" stroke-width="1.15" opacity="1"/>
<polygon points="284.52,337.70 289.12,337.70 289.12,342.30 284.52,342.30" fill="#ffffff" stroke="#1e1e1e" stroke-width="1.15" opacity="1"/>
<polygon points="287.41,337.70 292.01,337.70 292.01,342.30 287.41,342.30" fill="#ffffff" stroke="#1e1e1e" stroke-width="1.15" opacity="1"/>
<polygon points="289.91,337.70 294.51,337.70 294.51,342.30 289.91,342.30" fill="#ffffff" stroke="#1e1e1e" stroke-width="1.15" opacity="1"/>
<polygon points="292.12,337.70 296.72,337.70 296.72,342.30 292.12,342.30" fill="#ffffff" stroke="#1e1e1e" stroke-width="1.15" opacity="1"/>
<polygon points="294.10,337.70 298.70,337.70 298.70,342.30 294.10,342.30" fill="#ffffff" stroke="#1e1e1e" stroke-width="1.15" opacity="1"/>
<polygon points="34.60,373.20 39.20,373.20 39.20,377.80 34.60,377.80" fill="#ffffff" stroke="#1e1e1e" stroke-width="1.15" opacity="1"/>
<polygon points="33.00,376.20 37.60,376.20 37.60,380.80 33.00,380.80" fill="#ffffff" stroke="#1e1e1e" stroke-width="1.15" opacity="1"/>
<polygon points="50.20,349.48 53.40,344.30 47.00,344.30" fill="#ffffff" stroke="#2a62bd" stroke-width="1.1" opacity="1"/>
<polygon points="57.81,349.18 61.01,344.00 54.61,344.00" fill="#ffffff" stroke="#2a62bd" stroke-width="1.1" opacity="1"/>
<polygon points="63.21,348.65 66.41,343.47 60.01,343.47" fill="#ffffff" stroke="#2a62bd" stroke-width="1.1" opacity="1"/>
<polygon points="67.40,348.25 70.60,343.06 64.20,343.06" fill="#ffffff" stroke="#2a62bd" stroke-width="1.1" opacity="1"/>
<polygon points="70.82,347.91 74.02,342.73 67.62,342.73" fill="#ffffff" stroke="#2a62bd" stroke-width="1.1" opacity="1"/>
<polygon points="73.71,347.63 76.91,342.45 70.51,342.45" fill="#ffffff" stroke="#2a62bd" stroke-width="1.1" opacity="1"/>
<polygon points="76.21,347.39 79.41,342.20 73.01,342.20" fill="#ffffff" stroke="#2a62bd" stroke-width="1.1" opacity="1"/>
<polygon points="78.42,347.17 81.62,341.99 75.22,341.99" fill="#ffffff" stroke="#2a62bd" stroke-width="1.1" opacity="1"/>
<polygon points="80.40,346.98 83.60,341.80 77.20,341.80" fill="#ffffff" stroke="#2a62bd" stroke-width="1.1" opacity="1"/>
<polygon points="93.40,346.58 96.60,341.40 90.20,341.40" fill="#ffffff" stroke="#2a62bd" stroke-width="1.1" opacity="1"/>
<polygon points="101.01,345.40 104.21,340.21 97.81,340.21" fill="#ffffff" stroke="#2a62bd" stroke-width="1.1" opacity="1"/>
<polygon points="106.41,344.56 109.61,339.37 103.21,339.37" fill="#ffffff" stroke="#2a62bd" stroke-width="1.1" opacity="1"/>
<polygon points="110.60,343.90 113.80,338.72 107.40,338.72" fill="#ffffff" stroke="#2a62bd" stroke-width="1.1" opacity="1"/>
<polygon points="114.02,343.37 117.22,338.19 110.82,338.19" fill="#ffffff" stroke="#2a62bd" stroke-width="1.1" opacity="1"/>
<polygon points="116.91,342.92 120.11,337.74 113.71,337.74" fill="#ffffff" stroke="#2a62bd" stroke-width="1.1" opacity="1"/>
<polygon points="119.41,342.53 122.61,337.35 116.21,337.35" fill="#ffffff" stroke="#2a62bd" stroke-width="1.1" opacity="1"/>
<polygon points="121.62,342.19 124.82,337.00 118.42,337.00" fill="#ffffff" stroke="#2a62bd" stroke-width="1.1" opacity="1"/>
<polygon points="123.60,341.88 126.80,336.70 120.40,336.70" fill="#ffffff" stroke="#2a62bd" stroke-width="1.1" opacity="1"/>
<polygon points="136.60,340.88 139.80,335.70 133.40,335.70" fill="#ffffff" stroke="#2a62bd" stroke-width="1.1" opacity="1"/>
<polygon points="144.21,339.87 147.41,334.69 141.01,334.69" fill="#ffffff" stroke="#2a62bd" stroke-width="1.1" opacity="1"/>
<polygon points="149.61,339.16 152.81,333.97 146.41,333.97" fill="#ffffff" stroke="#2a62bd" stroke-width="1.1" opacity="1"/>
<polygon points="153.80,338.60 157.00,333.42 150.60,333.42" fill="#ffffff" stroke="#2a62bd" stroke-width="1.1" opacity="1"/>
<polygon points="157.22,338.15 160.42,332.97 154.02,332.97" fill="#ffffff" stroke="#2a62bd" stroke-width="1.1" opacity="1"/>
<polygon points="160.11,337.77 163.31,332.58 156.91,332.58" fill="#ffffff" stroke="#2a62bd" stroke-width="1.1" opacity="1"/>
<polygon points="162.61,337.43 165.81,332.25 159.41,332.25" fill="#ffffff" stroke="#2a62bd" stroke-width="1.1" opacity="1"/>
<polygon points="164.82,337.14 168.02,331.96 161.62,331.96" fill="#ffffff" stroke="#2a62bd" stroke-width="1.1" opacity="1"/>
<polygon points="166.80,336.88 170.00,331.70 163.60,331.70" fill="#ffffff" stroke="#2a62bd" stroke-width="1.1" opacity="1"/>
<polygon points="179.80,336.48 183.00,331.30 176.60,331.30" fill="#ffffff" stroke="#2a62bd" stroke-width="1.1" opacity="1"/>
<polygon points="187.41,336.05 190.61,330.87 184.21,330.87" fill="#ffffff" stroke="#2a62bd" stroke-width="1.1" opacity="1"/>
<polygon points="192.81,335.75 196.01,330.56 189.61,330.56" fill="#ffffff" stroke="#2a62bd" stroke-width="1.1" opacity="1"/>
<polygon points="197.00,335.51 200.20,330.33 193.80,330.33" fill="#ffffff" stroke="#2a62bd" stroke-width="1.1" opacity="1"/>
<polygon points="200.42,335.32 203.62,330.14 197.22,330.14" fill="#ffffff" stroke="#2a62bd" stroke-width="1.1" opacity="1"/>
<polygon points="203.31,335.16 206.51,329.97 200.11,329.97" fill="#ffffff" stroke="#2a62bd" stroke-width="1.1" opacity="1"/>
<polygon points="205.81,335.02 209.01,329.83 202.61,329.83" fill="#ffffff" stroke="#2a62bd" stroke-width="1.1" opacity="1"/>
<polygon points="208.02,334.89 211.22,329.71 204.82,329.71" fill="#ffffff" stroke="#2a62bd" stroke-width="1.1" opacity="1"/>
<polygon points="210.00,334.78 213.20,329.60 206.80,329.60" fill="#ffffff" stroke="#2a62bd" stroke-width="1.1" opacity="1"/>
<polygon points="223.00,333.58 226.20,328.40 219.80,328.40" fill="#ffffff" stroke="#2a62bd" stroke-width="1.1" opacity="1"/>
<polygon points="230.61,333.08 233.81,327.89 227.41,327.89" fill="#ffffff" stroke="#2a62bd" stroke-width="1.1" opacity="1"/>
<polygon points="236.01,332.72 239.21,327.53 232.81,327.53" fill="#ffffff" stroke="#2a62bd" stroke-width="1.1" opacity="1"/>
<polygon points="240.20,332.44 243.40,327.26 237.00,327.26" fill="#ffffff" stroke="#2a62bd" stroke-width="1.1" opacity="1"/>
<polygon points="243.62,332.21 246.82,327.03 240.42,327.03" fill="#ffffff" stroke="#2a62bd" stroke-width="1.1" opacity="1"/>
<polygon points="246.51,332.02 249.71,326.84 243.31,326.84" fill="#ffffff" stroke="#2a62bd" stroke-width="1.1" opacity="1"/>
<polygon points="249.01,331.86 252.21,326.67 245.81,326.67" fill="#ffffff" stroke="#2a62bd" stroke-width="1.1" opacity="1"/>
<polygon points="251.22,331.71 254.42,326.53 248.02,326.53" fill="#ffffff" stroke="#2a62bd" stroke-width="1.1" opacity="1"/>
<polygon points="253.20,331.58 256.40,326.40 250.00,326.40" fill="#ffffff" stroke="#2a62bd" stroke-width="1.1" opacity="1"/>
<polygon points="266.20,330.98 269.40,325.80 263.00,325.80" fill="#ffffff" stroke="#2a62bd" stroke-width="1.1" opacity="1"/>
<polygon points="273.81,330.88 277.01,325.70 270.61,325.70" fill="#ffffff" stroke="#2a62bd" stroke-width="1.1" opacity="1"/>
<polygon points="279.21,330.81 282.41,325.62 276.01,325.62" fill="#ffffff" stroke="#2a62bd" stroke-width="1.1" opacity="1"/>
<polygon points="283.40,330.75 286.60,325.57 280.20,325.57" fill="#ffffff" stroke="#2a62bd" stroke-width="1.1" opacity="1"/>
<polygon points="286.82,330.71 290.02,325.52 283.62,325.52" fill="#ffffff" stroke="#2a62bd" stroke-width="1.1" opacity="1"/>
<polygon points="289.71,330.67 292.91,325.48 286.51,325.48" fill="#ffffff" stroke="#2a62bd" stroke-width="1.1" opacity="1"/>
<polygon points="292.21,330.64 295.41,325.45 289.01,325.45" fill="#ffffff" stroke="#2a62bd" stroke-width="1.1" opacity="1"/>
<polygon points="294.42,330.61 297.62,325.42 291.22,325.42" fill="#ffffff" stroke="#2a62bd" stroke-width="1.1" opacity="1"/>
<polygon points="296.40,330.58 299.60,325.40 293.20,325.40" fill="#ffffff" stroke="#2a62bd" stroke-width="1.1" opacity="1"/>
<polygon points="33.80,349.48 37.00,344.30 30.60,344.30" fill="#ffffff" stroke="#2a62bd" stroke-width="1.1" opacity="1"/>
<polygon points="37.30,349.48 40.50,344.30 34.10,344.30" fill="#ffffff" stroke="#2a62bd" stroke-width="1.1" opacity="1"/>
<polygon points="50.20,337.12 53.40,342.30 47.00,342.30" fill="#ffffff" stroke="#2f8c47" stroke-width="1.05" opacity="1"/>
<polygon points="57.81,327.02 61.01,332.20 54.61,332.20" fill="#ffffff" stroke="#2f8c47" stroke-width="1.05" opacity="1"/>
<polygon points="63.21,322.42 66.41,327.60 60.01,327.60" fill="#ffffff" stroke="#2f8c47" stroke-width="1.05" opacity="1"/>
<polygon points="67.40,319.32 70.60,324.50 64.20,324.50" fill="#ffffff" stroke="#2f8c47" stroke-width="1.05" opacity="1"/>
<polygon points="70.82,317.72 74.02,322.90 67.62,322.90" fill="#ffffff" stroke="#2f8c47" stroke-width="1.05" opacity="1"/>
<polygon points="73.71,316.62 76.91,321.80 70.51,321.80" fill="#ffffff" stroke="#2f8c47" stroke-width="1.05" opacity="1"/>
<polygon points="76.21,315.62 79.41,320.80 73.01,320.80" fill="#ffffff" stroke="#2f8c47" stroke-width="1.05" opacity="1"/>
<polygon points="78.42,314.52 81.62,319.70 75.22,319.70" fill="#ffffff" stroke="#2f8c47" stroke-width="1.05" opacity="1"/>
<polygon points="80.40,312.92 83.60,318.10 77.20,318.10" fill="#ffffff" stroke="#2f8c47" stroke-width="1.05" opacity="1"/>
<polygon points="93.40,307.72 96.60,312.90 90.20,312.90" fill="#ffffff" stroke="#2f8c47" stroke-width="1.05" opacity="1"/>
<polygon points="101.01,306.76 104.21,311.95 97.81,311.95" fill="#ffffff" stroke="#2f8c47" stroke-width="1.05" opacity="1"/>
<polygon points="106.41,306.08 109.61,311.27 103.21,311.27" fill="#ffffff" stroke="#2f8c47" stroke-width="1.05" opacity="1"/>
<polygon points="110.60,305.56 113.80,310.74 107.40,310.74" fill="#ffffff" stroke="#2f8c47" stroke-width="1.05" opacity="1"/>
<polygon points="114.02,305.13 117.22,310.31 110.82,310.31" fill="#ffffff" stroke="#2f8c47" stroke-width="1.05" opacity="1"/>
<polygon points="116.91,304.76 120.11,309.95 113.71,309.95" fill="#ffffff" stroke="#2f8c47" stroke-width="1.05" opacity="1"/>
<polygon points="119.41,304.45 122.61,309.63 116.21,309.63" fill="#ffffff" stroke="#2f8c47" stroke-width="1.05" opacity="1"/>
<polygon points="121.62,304.17 124.82,309.35 118.42,309.35" fill="#ffffff" stroke="#2f8c47" stroke-width="1.05" opacity="1"/>
<polygon points="123.60,303.92 126.80,309.10 120.40,309.10" fill="#ffffff" stroke="#2f8c47" stroke-width="1.05" opacity="1"/>
<polygon points="136.60,302.72 139.80,307.90 133.40,307.90" fill="#ffffff" stroke="#2f8c47" stroke-width="1.05" opacity="1"/>
<polygon points="144.21,301.31 147.41,306.49 141.01,306.49" fill="#ffffff" stroke="#2f8c47" stroke-width="1.05" opacity="1"/>
<polygon points="149.61,300.31 152.81,305.49 146.41,305.49" fill="#ffffff" stroke="#2f8c47" stroke-width="1.05" opacity="1"/>
<polygon points="153.80,299.53 157.00,304.72 150.60,304.72" fill="#ffffff" stroke="#2f8c47" stroke-width="1.05" opacity="1"/>
<polygon points="157.22,298.90 160.42,304.08 154.02,304.08" fill="#ffffff" stroke="#2f8c47" stroke-width="1.05" opacity="1"/>
<polygon points="160.11,298.36 163.31,303.55 156.91,303.55" fill="#ffffff" stroke="#2f8c47" stroke-width="1.05" opacity="1"/>
<polygon points="162.61,297.90 165.81,303.08 159.41,303.08" fill="#ffffff" stroke="#2f8c47" stroke-width="1.05" opacity="1"/>
<polygon points="164.82,297.49 168.02,302.67 161.62,302.67" fill="#ffffff" stroke="#2f8c47" stroke-width="1.05" opacity="1"/>
<polygon points="166.80,297.12 170.00,302.30 163.60,302.30" fill="#ffffff" stroke="#2f8c47" stroke-width="1.05" opacity="1"/>
<polygon points="179.80,295.52 183.00,300.70 176.60,300.70" fill="#ffffff" stroke="#2f8c47" stroke-width="1.05" opacity="1"/>
<polygon points="187.41,294.16 190.61,299.34 184.21,299.34" fill="#ffffff" stroke="#2f8c47" stroke-width="1.05" opacity="1"/>
<polygon points="192.81,293.19 196.01,298.38 189.61,298.38" fill="#ffffff" stroke="#2f8c47" stroke-width="1.05" opacity="1"/>
<polygon points="197.00,292.45 200.20,297.63 193.80,297.63" fill="#ffffff" stroke="#2f8c47" stroke-width="1.05" opacity="1"/>
<polygon points="200.42,291.83 203.62,297.02 197.22,297.02" fill="#ffffff" stroke="#2f8c47" stroke-width="1.05" opacity="1"/>
<polygon points="203.31,291.32 206.51,296.50 200.11,296.50" fill="#ffffff" stroke="#2f8c47" stroke-width="1.05" opacity="1"/>
<polygon points="205.81,290.87 209.01,296.05 202.61,296.05" fill="#ffffff" stroke="#2f8c47" stroke-width="1.05" opacity="1"/>
<polygon points="208.02,290.47 211.22,295.66 204.82,295.66" fill="#ffffff" stroke="#2f8c47" stroke-width="1.05" opacity="1"/>
<polygon points="210.00,290.12 213.20,295.30 206.80,295.30" fill="#ffffff" stroke="#2f8c47" stroke-width="1.05" opacity="1"/>
<polygon points="212.40,278.12 215.60,283.30 209.20,283.30" fill="#ffffff" stroke="#2f8c47" stroke-width="1.05" opacity="1"/>
<polygon points="214.40,270.72 217.60,275.90 211.20,275.90" fill="#ffffff" stroke="#2f8c47" stroke-width="1.05" opacity="1"/>
<polygon points="36.10,356.61 39.20,361.63 33.00,361.63" fill="#ffffff" stroke="#2f8c47" stroke-width="1.05" opacity="1"/>
<polygon points="36.10,360.41 39.20,365.43 33.00,365.43" fill="#ffffff" stroke="#2f8c47" stroke-width="1.05" opacity="1"/>
<polygon points="35.30,364.21 38.40,369.23 32.20,369.23" fill="#ffffff" stroke="#2f8c47" stroke-width="1.05" opacity="1"/>
<polygon points="50.20,324.00 53.40,327.20 50.20,330.40 47.00,327.20" fill="#ffffff" stroke="#e2613b" stroke-width="1.05" opacity="1"/>
<polygon points="57.81,311.40 61.01,314.60 57.81,317.80 54.61,314.60" fill="#ffffff" stroke="#e2613b" stroke-width="1.05" opacity="1"/>
<polygon points="63.21,303.70 66.41,306.90 63.21,310.10 60.01,306.90" fill="#ffffff" stroke="#e2613b" stroke-width="1.05" opacity="1"/>
<polygon points="67.40,297.40 70.60,300.60 67.40,303.80 64.20,300.60" fill="#ffffff" stroke="#e2613b" stroke-width="1.05" opacity="1"/>
<polygon points="70.82,291.80 74.02,295.00 70.82,298.20 67.62,295.00" fill="#ffffff" stroke="#e2613b" stroke-width="1.05" opacity="1"/>
<polygon points="73.71,287.60 76.91,290.80 73.71,294.00 70.51,290.80" fill="#ffffff" stroke="#e2613b" stroke-width="1.05" opacity="1"/>
<polygon points="76.21,283.70 79.41,286.90 76.21,290.10 73.01,286.90" fill="#ffffff" stroke="#e2613b" stroke-width="1.05" opacity="1"/>
<polygon points="78.42,280.60 81.62,283.80 78.42,287.00 75.22,283.80" fill="#ffffff" stroke="#e2613b" stroke-width="1.05" opacity="1"/>
<polygon points="80.40,277.50 83.60,280.70 80.40,283.90 77.20,280.70" fill="#ffffff" stroke="#e2613b" stroke-width="1.05" opacity="1"/>
<polygon points="93.40,270.10 96.60,273.30 93.40,276.50 90.20,273.30" fill="#ffffff" stroke="#e2613b" stroke-width="1.05" opacity="1"/>
<polygon points="101.01,269.00 104.21,272.20 101.01,275.40 97.81,272.20" fill="#ffffff" stroke="#e2613b" stroke-width="1.05" opacity="1"/>
<polygon points="106.41,268.30 109.61,271.50 106.41,274.70 103.21,271.50" fill="#ffffff" stroke="#e2613b" stroke-width="1.05" opacity="1"/>
<polygon points="110.60,268.01 113.80,271.21 110.60,274.41 107.40,271.21" fill="#ffffff" stroke="#e2613b" stroke-width="1.05" opacity="1"/>
<polygon points="114.02,267.77 117.22,270.97 114.02,274.17 110.82,270.97" fill="#ffffff" stroke="#e2613b" stroke-width="1.05" opacity="1"/>
<polygon points="116.91,267.57 120.11,270.77 116.91,273.97 113.71,270.77" fill="#ffffff" stroke="#e2613b" stroke-width="1.05" opacity="1"/>
<polygon points="119.41,267.39 122.61,270.59 119.41,273.79 116.21,270.59" fill="#ffffff" stroke="#e2613b" stroke-width="1.05" opacity="1"/>
<polygon points="121.62,267.24 124.82,270.44 121.62,273.64 118.42,270.44" fill="#ffffff" stroke="#e2613b" stroke-width="1.05" opacity="1"/>
<polygon points="123.60,267.10 126.80,270.30 123.60,273.50 120.40,270.30" fill="#ffffff" stroke="#e2613b" stroke-width="1.05" opacity="1"/>
<polygon points="136.60,265.30 139.80,268.50 136.60,271.70 133.40,268.50" fill="#ffffff" stroke="#e2613b" stroke-width="1.05" opacity="1"/>
<polygon points="144.21,263.00 147.41,266.20 144.21,269.40 141.01,266.20" fill="#ffffff" stroke="#e2613b" stroke-width="1.05" opacity="1"/>
<polygon points="149.61,260.80 152.81,264.00 149.61,267.20 146.41,264.00" fill="#ffffff" stroke="#e2613b" stroke-width="1.05" opacity="1"/>
<polygon points="153.80,258.50 157.00,261.70 153.80,264.90 150.60,261.70" fill="#ffffff" stroke="#e2613b" stroke-width="1.05" opacity="1"/>
<polygon points="157.22,256.42 160.42,259.62 157.22,262.82 154.02,259.62" fill="#ffffff" stroke="#e2613b" stroke-width="1.05" opacity="1"/>
<polygon points="160.11,254.67 163.31,257.87 160.11,261.07 156.91,257.87" fill="#ffffff" stroke="#e2613b" stroke-width="1.05" opacity="1"/>
<polygon points="162.61,253.14 165.81,256.34 162.61,259.54 159.41,256.34" fill="#ffffff" stroke="#e2613b" stroke-width="1.05" opacity="1"/>
<polygon points="164.82,251.80 168.02,255.00 164.82,258.20 161.62,255.00" fill="#ffffff" stroke="#e2613b" stroke-width="1.05" opacity="1"/>
<polygon points="166.80,250.60 170.00,253.80 166.80,257.00 163.60,253.80" fill="#ffffff" stroke="#e2613b" stroke-width="1.05" opacity="1"/>
<polygon points="179.80,242.80 183.00,246.00 179.80,249.20 176.60,246.00" fill="#ffffff" stroke="#e2613b" stroke-width="1.05" opacity="1"/>
<polygon points="187.41,236.80 190.61,240.00 187.41,243.20 184.21,240.00" fill="#ffffff" stroke="#e2613b" stroke-width="1.05" opacity="1"/>
<polygon points="192.81,230.30 196.01,233.50 192.81,236.70 189.61,233.50" fill="#ffffff" stroke="#e2613b" stroke-width="1.05" opacity="1"/>
<polygon points="36.10,348.70 39.20,351.80 36.10,354.90 33.00,351.80" fill="#ffffff" stroke="#e2613b" stroke-width="1.05" opacity="1"/>
<polygon points="36.10,351.70 39.20,354.80 36.10,357.90 33.00,354.80" fill="#ffffff" stroke="#e2613b" stroke-width="1.05" opacity="1"/>
<text x="230.50" y="211.60" font-size="7.3" text-anchor="middle" fill="#2a2a2a" font-weight="normal" font-family='"Liberation Sans", Arial, sans-serif' dominant-baseline="central" stroke="#2a2a2a" stroke-width="0.05" >GDS</text>
<text x="253.20" y="211.60" font-size="7.3" text-anchor="middle" fill="#2a2a2a" font-weight="normal" font-family='"Liberation Sans", Arial, sans-serif' dominant-baseline="central" stroke="#2a2a2a" stroke-width="0.05" >CG</text>
<text x="264" y="211.6" font-size="7.3" fill="#2a2a2a" font-family='"Liberation Sans", Arial, sans-serif' dominant-baseline="central"><tspan font-style="italic" font-family="Liberation Serif, serif">σ</tspan><tspan font-size="4.3" dy="1.6">max</tspan><tspan dy="-1.6">(MPa)</tspan></text>
<circle cx="230.50" cy="223.20" r="2.5" fill="#7b1c1f" stroke="#7b1c1f" stroke-width="0.4" opacity="1"/>
<polygon points="230.50,232.50 233.70,235.70 230.50,238.90 227.30,235.70" fill="#e42a1f" stroke="#e42a1f" stroke-width="0.3" opacity="1"/>
<polygon points="252.90,232.50 256.10,235.70 252.90,238.90 249.70,235.70" fill="#ffffff" stroke="#e2613b" stroke-width="1.05" opacity="1"/>
<polygon points="230.50,244.30 233.80,250.10 227.20,250.10" fill="#1f8a3d" stroke="#1f8a3d" stroke-width="0.3" opacity="1"/>
<polygon points="252.90,244.32 256.10,249.50 249.70,249.50" fill="#ffffff" stroke="#2f8c47" stroke-width="1.05" opacity="1"/>
<polygon points="230.50,261.30 233.80,255.70 227.20,255.70" fill="#1f4c9c" stroke="#1f4c9c" stroke-width="0.3" opacity="1"/>
<polygon points="252.90,261.38 256.10,256.20 249.70,256.20" fill="#ffffff" stroke="#2a62bd" stroke-width="1.1" opacity="1"/>
<polygon points="250.60,268.10 255.20,268.10 255.20,272.70 250.60,272.70" fill="#ffffff" stroke="#1e1e1e" stroke-width="1.15" opacity="1"/>
<text x="279.30" y="224.30" font-size="7.2" text-anchor="middle" fill="#3a3a3a" font-weight="normal" font-family='"Liberation Sans", Arial, sans-serif' dominant-baseline="central" stroke="#3a3a3a" stroke-width="0" >570</text>
<text x="279.30" y="236.10" font-size="7.2" text-anchor="middle" fill="#3a3a3a" font-weight="normal" font-family='"Liberation Sans", Arial, sans-serif' dominant-baseline="central" stroke="#3a3a3a" stroke-width="0" >540</text>
<text x="279.30" y="247.60" font-size="7.2" text-anchor="middle" fill="#3a3a3a" font-weight="normal" font-family='"Liberation Sans", Arial, sans-serif' dominant-baseline="central" stroke="#3a3a3a" stroke-width="0" >510</text>
<text x="279.30" y="259.80" font-size="7.2" text-anchor="middle" fill="#3a3a3a" font-weight="normal" font-family='"Liberation Sans", Arial, sans-serif' dominant-baseline="central" stroke="#3a3a3a" stroke-width="0" >480</text>
<text x="279.30" y="271.30" font-size="7.2" text-anchor="middle" fill="#3a3a3a" font-weight="normal" font-family='"Liberation Sans", Arial, sans-serif' dominant-baseline="central" stroke="#3a3a3a" stroke-width="0" >420</text>
<defs><clipPath id="fclip"><rect x="317.6" y="200.6" width="222.6" height="194.9"/></clipPath></defs>
<g clip-path="url(#fclip)">
<ellipse cx="339.00" cy="252.00" rx="51.26" ry="14.00" transform="rotate(-69.4 339.00 252.00)" fill="#cfcfcf" fill-opacity="0.24" stroke="none" stroke-width="0"/>
<ellipse cx="373.00" cy="272.00" rx="51.08" ry="16.00" transform="rotate(-23.1 373.00 272.00)" fill="#cfcfcf" fill-opacity="0.2" stroke="none" stroke-width="0"/>
<ellipse cx="427.00" cy="243.50" rx="42.93" ry="11.00" transform="rotate(-63.7 427.00 243.50)" fill="#b8b8b8" fill-opacity="0.22" stroke="none" stroke-width="0"/>
<ellipse cx="469.50" cy="284.00" rx="33.02" ry="10.00" transform="rotate(-58.0 469.50 284.00)" fill="#c8c8c8" fill-opacity="0.22" stroke="none" stroke-width="0"/>
<ellipse cx="360.50" cy="252.00" rx="47.67" ry="10.50" transform="rotate(-74.8 360.50 252.00)" fill="#7f9fd6" fill-opacity="0.36" stroke="none" stroke-width="0"/>
<ellipse cx="398.00" cy="245.00" rx="37.00" ry="18.50" transform="rotate(-38.0 398.00 245.00)" fill="#d6b870" fill-opacity="0.4" stroke="none" stroke-width="0"/>
<ellipse cx="451.50" cy="245.75" rx="71.35" ry="16.00" transform="rotate(-36.3 451.50 245.75)" fill="#8aa6dc" fill-opacity="0.32" stroke="none" stroke-width="0"/>
<ellipse cx="400.50" cy="288.00" rx="32.50" ry="11.00" transform="rotate(-53.1 400.50 288.00)" fill="#8aa6dc" fill-opacity="0.3" stroke="none" stroke-width="0"/>
<ellipse cx="505.00" cy="240.00" rx="33.12" ry="10.50" transform="rotate(-61.1 505.00 240.00)" fill="#8aa6dc" fill-opacity="0.32" stroke="none" stroke-width="0"/>
<ellipse cx="457.00" cy="276.00" rx="54.42" ry="10.00" transform="rotate(-20.4 457.00 276.00)" fill="#eda874" fill-opacity="0.34" stroke="none" stroke-width="0"/>
<ellipse cx="452.00" cy="295.00" rx="42.49" ry="11.00" transform="rotate(-26.6 452.00 295.00)" fill="#eebc98" fill-opacity="0.28" stroke="none" stroke-width="0"/>
<ellipse cx="431.50" cy="299.00" rx="16.10" ry="8.00" transform="rotate(-25.8 431.50 299.00)" fill="#8aa0c8" fill-opacity="0.3" stroke="none" stroke-width="0"/>
<path d="M533.80,219.80 C534.87,219.97 536.20,221.23 537.00,223.20 C537.80,225.17 538.27,226.68 538.60,231.60 C538.93,236.52 539.10,247.42 539.00,252.70 C538.90,257.98 538.87,260.13 538.00,263.30 C537.13,266.47 536.43,269.58 533.80,271.70 C531.17,273.82 526.60,275.28 522.20,276.00 C517.80,276.72 510.60,276.58 507.40,276.00 C504.20,275.42 503.48,274.00 503.00,272.50 C502.52,271.00 503.42,268.88 504.50,267.00 C505.58,265.12 507.78,263.93 509.50,261.20 C511.22,258.47 513.05,254.13 514.80,250.60 C516.55,247.07 518.23,243.52 520.00,240.00 C521.77,236.48 523.63,232.47 525.40,229.50 C527.17,226.53 529.20,223.82 530.60,222.20 C532.00,220.58 532.73,219.63 533.80,219.80Z" fill="#8cc864" fill-opacity="0.55"/>
<ellipse cx="527.00" cy="233.50" rx="15.69" ry="6.50" transform="rotate(-59.3 527.00 233.50)" fill="#7a8a7a" fill-opacity="0.28" stroke="none" stroke-width="0"/>
<ellipse cx="472.50" cy="336.00" rx="69.63" ry="11.50" transform="rotate(-54.9 472.50 336.00)" fill="#ee9270" fill-opacity="0.5" stroke="#d86a48" stroke-width="0.5"/>
<ellipse cx="496.75" cy="343.50" rx="49.74" ry="8.60" transform="rotate(-72.7 496.75 343.50)" fill="#c98f78" fill-opacity="0.42" stroke="#b87058" stroke-width="0.5"/>
</g>
<polygon points="352.11,215.80 347.41,212.90 347.41,218.70" fill="none" stroke="#adadad" stroke-width="0.8" opacity="1"/>
<polygon points="352.11,222.90 347.41,220.00 347.41,225.80" fill="none" stroke="#adadad" stroke-width="0.8" opacity="1"/>
<polygon points="339.11,237.60 334.41,234.70 334.41,240.50" fill="none" stroke="#adadad" stroke-width="0.8" opacity="1"/>
<polygon points="325.91,249.00 321.21,246.10 321.21,251.90" fill="none" stroke="#adadad" stroke-width="0.8" opacity="1"/>
<polygon points="328.61,256.50 323.91,253.60 323.91,259.40" fill="none" stroke="#adadad" stroke-width="0.8" opacity="1"/>
<polygon points="325.61,310.00 320.91,307.10 320.91,312.90" fill="none" stroke="#adadad" stroke-width="0.8" opacity="1"/>
<polygon points="331.10,276.10 334.90,276.10 334.90,279.90 331.10,279.90" fill="none" stroke="#ababab" stroke-width="0.7" opacity="1"/>
<polygon points="331.10,281.10 334.90,281.10 334.90,284.90 331.10,284.90" fill="none" stroke="#ababab" stroke-width="0.7" opacity="1"/>
<polygon points="331.10,286.10 334.90,286.10 334.90,289.90 331.10,289.90" fill="none" stroke="#ababab" stroke-width="0.7" opacity="1"/>
<polygon points="334.10,271.10 337.90,271.10 337.90,274.90 334.10,274.90" fill="none" stroke="#ababab" stroke-width="0.7" opacity="1"/>
<polygon points="338.10,266.10 341.90,266.10 341.90,269.90 338.10,269.90" fill="none" stroke="#ababab" stroke-width="0.7" opacity="1"/>
<polygon points="341.10,265.60 344.90,265.60 344.90,269.40 341.10,269.40" fill="none" stroke="#ababab" stroke-width="0.7" opacity="1"/>
<polygon points="341.10,270.60 344.90,270.60 344.90,274.40 341.10,274.40" fill="none" stroke="#ababab" stroke-width="0.7" opacity="1"/>
<polygon points="346.10,254.10 349.90,254.10 349.90,257.90 346.10,257.90" fill="none" stroke="#ababab" stroke-width="0.7" opacity="1"/>
<polygon points="350.10,254.10 353.90,254.10 353.90,257.90 350.10,257.90" fill="none" stroke="#ababab" stroke-width="0.7" opacity="1"/>
<polygon points="354.10,255.10 357.90,255.10 357.90,258.90 354.10,258.90" fill="none" stroke="#ababab" stroke-width="0.7" opacity="1"/>
<polygon points="359.10,254.10 362.90,254.10 362.90,257.90 359.10,257.90" fill="none" stroke="#ababab" stroke-width="0.7" opacity="1"/>
<polygon points="363.10,255.10 366.90,255.10 366.90,258.90 363.10,258.90" fill="none" stroke="#ababab" stroke-width="0.7" opacity="1"/>
<polygon points="361.10,260.10 364.90,260.10 364.90,263.90 361.10,263.90" fill="none" stroke="#ababab" stroke-width="0.7" opacity="1"/>
<polygon points="359.10,264.60 362.90,264.60 362.90,268.40 359.10,268.40" fill="none" stroke="#ababab" stroke-width="0.7" opacity="1"/>
<polygon points="368.10,255.10 371.90,255.10 371.90,258.90 368.10,258.90" fill="none" stroke="#ababab" stroke-width="0.7" opacity="1"/>
<polygon points="367.10,260.10 370.90,260.10 370.90,263.90 367.10,263.90" fill="none" stroke="#ababab" stroke-width="0.7" opacity="1"/>
<polygon points="341.10,275.10 344.90,275.10 344.90,278.90 341.10,278.90" fill="none" stroke="#ababab" stroke-width="0.7" opacity="1"/>
<polygon points="337.10,279.10 340.90,279.10 340.90,282.90 337.10,282.90" fill="none" stroke="#ababab" stroke-width="0.7" opacity="1"/>
<polygon points="359.10,277.10 362.90,277.10 362.90,280.90 359.10,280.90" fill="none" stroke="#ababab" stroke-width="0.7" opacity="1"/>
<polygon points="358.10,287.10 361.90,287.10 361.90,290.90 358.10,290.90" fill="none" stroke="#ababab" stroke-width="0.7" opacity="1"/>
<polygon points="372.10,279.10 375.90,279.10 375.90,282.90 372.10,282.90" fill="none" stroke="#ababab" stroke-width="0.7" opacity="1"/>
<polygon points="372.10,287.10 375.90,287.10 375.90,290.90 372.10,290.90" fill="none" stroke="#ababab" stroke-width="0.7" opacity="1"/>
<polygon points="385.10,242.70 388.90,242.70 388.90,246.50 385.10,246.50" fill="none" stroke="#ababab" stroke-width="0.7" opacity="1"/>
<polygon points="386.10,256.10 389.90,256.10 389.90,259.90 386.10,259.90" fill="none" stroke="#ababab" stroke-width="0.7" opacity="1"/>
<polygon points="377.50,238.60 381.30,238.60 381.30,242.40 377.50,242.40" fill="none" stroke="#ababab" stroke-width="0.7" opacity="1"/>
<polygon points="377.50,241.90 381.30,241.90 381.30,245.70 377.50,245.70" fill="none" stroke="#ababab" stroke-width="0.7" opacity="1"/>
<polygon points="383.10,259.10 386.90,259.10 386.90,262.90 383.10,262.90" fill="none" stroke="#ababab" stroke-width="0.7" opacity="1"/>
<polygon points="385.10,279.10 388.90,279.10 388.90,282.90 385.10,282.90" fill="none" stroke="#ababab" stroke-width="0.7" opacity="1"/>
<polygon points="385.10,287.70 388.90,287.70 388.90,291.50 385.10,291.50" fill="none" stroke="#ababab" stroke-width="0.7" opacity="1"/>
<polygon points="372.10,257.80 375.90,257.80 375.90,261.60 372.10,261.60" fill="none" stroke="#ababab" stroke-width="0.7" opacity="1"/>
<polygon points="377.50,259.50 381.30,259.50 381.30,263.30 377.50,263.30" fill="none" stroke="#ababab" stroke-width="0.7" opacity="1"/>
<polygon points="403.30,235.10 407.10,235.10 407.10,238.90 403.30,238.90" fill="none" stroke="#ababab" stroke-width="0.7" opacity="1"/>
<polygon points="385.10,254.10 388.90,254.10 388.90,257.90 385.10,257.90" fill="none" stroke="#ababab" stroke-width="0.7" opacity="1"/>
<polygon points="353.10,260.10 356.90,260.10 356.90,263.90 353.10,263.90" fill="none" stroke="#ababab" stroke-width="0.7" opacity="1"/>
<polygon points="344.10,260.10 347.90,260.10 347.90,263.90 344.10,263.90" fill="none" stroke="#ababab" stroke-width="0.7" opacity="1"/>
<polygon points="438.80,211.30 441.60,214.10 438.80,216.90 436.00,214.10" fill="none" stroke="#adadad" stroke-width="0.8" opacity="1"/>
<polygon points="433.80,226.50 436.60,229.30 433.80,232.10 431.00,229.30" fill="none" stroke="#adadad" stroke-width="0.8" opacity="1"/>
<polygon points="429.10,229.50 431.90,232.30 429.10,235.10 426.30,232.30" fill="none" stroke="#adadad" stroke-width="0.8" opacity="1"/>
<polygon points="457.90,199.00 460.70,201.80 457.90,204.60 455.10,201.80" fill="none" stroke="#adadad" stroke-width="0.8" opacity="1"/>
<polygon points="426.00,228.90 428.80,231.70 426.00,234.50 423.20,231.70" fill="none" stroke="#adadad" stroke-width="0.8" opacity="1"/>
<circle cx="426.30" cy="238.10" r="2.2" fill="none" stroke="#adadad" stroke-width="0.8" opacity="1"/>
<circle cx="476.60" cy="231.10" r="2.2" fill="none" stroke="#adadad" stroke-width="0.8" opacity="1"/>
<circle cx="399.90" cy="252.60" r="2.2" fill="none" stroke="#adadad" stroke-width="0.8" opacity="1"/>
<circle cx="374.10" cy="272.60" r="2.2" fill="none" stroke="#adadad" stroke-width="0.8" opacity="1"/>
<circle cx="380.00" cy="287.30" r="2.2" fill="none" stroke="#adadad" stroke-width="0.8" opacity="1"/>
<circle cx="399.90" cy="275.50" r="2.2" fill="none" stroke="#adadad" stroke-width="0.8" opacity="1"/>
<circle cx="425.80" cy="249.70" r="2.2" fill="none" stroke="#adadad" stroke-width="0.8" opacity="1"/>
<circle cx="425.80" cy="272.60" r="2.2" fill="none" stroke="#adadad" stroke-width="0.8" opacity="1"/>
<circle cx="353.00" cy="280.00" r="2.2" fill="none" stroke="#adadad" stroke-width="0.8" opacity="1"/>
<circle cx="353.00" cy="284.00" r="2.2" fill="none" stroke="#adadad" stroke-width="0.8" opacity="1"/>
<circle cx="366.00" cy="281.00" r="2.2" fill="none" stroke="#adadad" stroke-width="0.8" opacity="1"/>
<circle cx="366.00" cy="286.00" r="2.2" fill="none" stroke="#adadad" stroke-width="0.8" opacity="1"/>
<circle cx="433.50" cy="299.20" r="2.2" fill="none" stroke="#adadad" stroke-width="0.8" opacity="1"/>
<circle cx="438.00" cy="299.30" r="2.2" fill="none" stroke="#adadad" stroke-width="0.8" opacity="1"/>
<circle cx="436.70" cy="302.70" r="2.2" fill="none" stroke="#adadad" stroke-width="0.8" opacity="1"/>
<circle cx="445.30" cy="288.70" r="2.2" fill="none" stroke="#adadad" stroke-width="0.8" opacity="1"/>
<circle cx="420.50" cy="300.00" r="2.2" fill="none" stroke="#adadad" stroke-width="0.8" opacity="1"/>
<circle cx="425.70" cy="301.20" r="2.3" fill="#c2c2c2" stroke="#c2c2c2" stroke-width="0.3" opacity="1"/>
<circle cx="456.50" cy="285.00" r="2.3" fill="#c2c2c2" stroke="#c2c2c2" stroke-width="0.3" opacity="1"/>
<circle cx="472.20" cy="287.20" r="2.3" fill="#c2c2c2" stroke="#c2c2c2" stroke-width="0.3" opacity="1"/>
<circle cx="440.70" cy="309.00" r="2.3" fill="#c2c2c2" stroke="#c2c2c2" stroke-width="0.3" opacity="1"/>
<circle cx="436.70" cy="288.40" r="2.3" fill="#c2c2c2" stroke="#c2c2c2" stroke-width="0.3" opacity="1"/>
<circle cx="460.20" cy="286.70" r="2.3" fill="#c2c2c2" stroke="#c2c2c2" stroke-width="0.3" opacity="1"/>
<circle cx="466.00" cy="282.00" r="2.3" fill="#c2c2c2" stroke="#c2c2c2" stroke-width="0.3" opacity="1"/>
<polygon points="485.90,245.00 488.47,246.87 487.49,249.88 484.31,249.88 483.33,246.87" fill="none" stroke="#adadad" stroke-width="0.8" opacity="1"/>
<polygon points="458.50,262.80 461.07,264.67 460.09,267.68 456.91,267.68 455.93,264.67" fill="none" stroke="#adadad" stroke-width="0.8" opacity="1"/>
<polygon points="475.50,256.40 478.07,258.27 477.09,261.28 473.91,261.28 472.93,258.27" fill="none" stroke="#adadad" stroke-width="0.8" opacity="1"/>
<polygon points="446.00,286.00 448.57,287.87 447.59,290.88 444.41,290.88 443.43,287.87" fill="none" stroke="#adadad" stroke-width="0.8" opacity="1"/>
<polygon points="416.00,311.80 418.57,313.67 417.59,316.68 414.41,316.68 413.43,313.67" fill="none" stroke="#adadad" stroke-width="0.8" opacity="1"/>
<polygon points="480.20,268.11 483.10,263.41 477.30,263.41" fill="none" stroke="#adadad" stroke-width="0.8" opacity="1"/>
<polygon points="476.00,272.81 478.90,268.11 473.10,268.11" fill="none" stroke="#adadad" stroke-width="0.8" opacity="1"/>
<polygon points="476.70,303.31 479.60,298.61 473.80,298.61" fill="none" stroke="#adadad" stroke-width="0.8" opacity="1"/>
<polygon points="476.70,273.31 479.60,268.61 473.80,268.61" fill="none" stroke="#adadad" stroke-width="0.8" opacity="1"/>
<polygon points="505.50,262.60 504.20,264.85 501.60,264.85 500.30,262.60 501.60,260.35 504.20,260.35" fill="none" stroke="#8a8a8a" stroke-width="0.7" opacity="1"/>
<polygon points="369.40,212.09 372.30,216.79 366.50,216.79" fill="none" stroke="#2f6db5" stroke-width="1.0" opacity="1"/>
<polygon points="369.40,219.69 372.30,224.39 366.50,224.39" fill="none" stroke="#2f6db5" stroke-width="1.0" opacity="1"/>
<polygon points="369.40,222.79 372.30,227.49 366.50,227.49" fill="none" stroke="#2f6db5" stroke-width="1.0" opacity="1"/>
<polygon points="369.40,227.89 372.30,232.59 366.50,232.59" fill="none" stroke="#2f6db5" stroke-width="1.0" opacity="1"/>
<polygon points="358.80,231.99 361.70,236.69 355.90,236.69" fill="none" stroke="#2f6db5" stroke-width="1.0" opacity="1"/>
<polygon points="358.80,235.19 361.70,239.89 355.90,239.89" fill="none" stroke="#2f6db5" stroke-width="1.0" opacity="1"/>
<polygon points="358.80,240.19 361.70,244.89 355.90,244.89" fill="none" stroke="#2f6db5" stroke-width="1.0" opacity="1"/>
<polygon points="358.80,252.99 361.70,257.69 355.90,257.69" fill="none" stroke="#2f6db5" stroke-width="1.0" opacity="1"/>
<polygon points="348.30,261.79 351.20,266.49 345.40,266.49" fill="none" stroke="#2f6db5" stroke-width="1.0" opacity="1"/>
<polygon points="348.30,288.19 351.20,292.89 345.40,292.89" fill="none" stroke="#2f6db5" stroke-width="1.0" opacity="1"/>
<polygon points="502.90,205.40 505.56,207.33 504.55,210.47 501.25,210.47 500.24,207.33" fill="none" stroke="#2f6db5" stroke-width="1.0" opacity="1"/>
<polygon points="472.00,218.90 474.66,220.83 473.65,223.97 470.35,223.97 469.34,220.83" fill="none" stroke="#2f6db5" stroke-width="1.0" opacity="1"/>
<polygon points="440.80,227.20 443.46,229.13 442.45,232.27 439.15,232.27 438.14,229.13" fill="none" stroke="#2f6db5" stroke-width="1.0" opacity="1"/>
<polygon points="440.80,244.20 443.46,246.13 442.45,249.27 439.15,249.27 438.14,246.13" fill="none" stroke="#2f6db5" stroke-width="1.0" opacity="1"/>
<polygon points="476.00,218.90 478.80,221.70 476.00,224.50 473.20,221.70" fill="none" stroke="#2f6db5" stroke-width="1.0" opacity="1"/>
<polygon points="470.80,237.10 473.60,239.90 470.80,242.70 468.00,239.90" fill="none" stroke="#2f6db5" stroke-width="1.0" opacity="1"/>
<polygon points="465.50,241.60 468.30,244.40 465.50,247.20 462.70,244.40" fill="none" stroke="#2f6db5" stroke-width="1.0" opacity="1"/>
<polygon points="404.00,266.80 406.80,269.60 404.00,272.40 401.20,269.60" fill="none" stroke="#2f6db5" stroke-width="1.0" opacity="1"/>
<polygon points="409.90,264.50 412.70,267.30 409.90,270.10 407.10,267.30" fill="none" stroke="#2f6db5" stroke-width="1.0" opacity="1"/>
<polygon points="417.00,261.60 419.80,264.40 417.00,267.20 414.20,264.40" fill="none" stroke="#2f6db5" stroke-width="1.0" opacity="1"/>
<polygon points="428.10,259.20 430.90,262.00 428.10,264.80 425.30,262.00" fill="none" stroke="#2f6db5" stroke-width="1.0" opacity="1"/>
<polygon points="441.40,252.20 444.20,255.00 441.40,257.80 438.60,255.00" fill="none" stroke="#2f6db5" stroke-width="1.0" opacity="1"/>
<polygon points="429.10,259.80 431.90,262.60 429.10,265.40 426.30,262.60" fill="none" stroke="#2f6db5" stroke-width="1.0" opacity="1"/>
<polygon points="453.20,249.20 456.00,252.00 453.20,254.80 450.40,252.00" fill="none" stroke="#2f6db5" stroke-width="1.0" opacity="1"/>
<circle cx="515.80" cy="221.10" r="2.3" fill="none" stroke="#2f6db5" stroke-width="1.0" opacity="1"/>
<circle cx="515.80" cy="231.50" r="2.3" fill="none" stroke="#2f6db5" stroke-width="1.0" opacity="1"/>
<circle cx="506.80" cy="241.10" r="2.3" fill="none" stroke="#2f6db5" stroke-width="1.0" opacity="1"/>
<polygon points="411.39,258.50 416.09,255.60 416.09,261.40" fill="none" stroke="#2f6db5" stroke-width="1.0" opacity="1"/>
<polygon points="382.69,306.70 387.39,303.80 387.39,309.60" fill="none" stroke="#2f6db5" stroke-width="1.0" opacity="1"/>
<polygon points="412.59,224.60 417.29,221.70 417.29,227.50" fill="none" stroke="#8b8a25" stroke-width="1.0" opacity="1"/>
<polygon points="391.99,232.90 396.69,230.00 396.69,235.80" fill="none" stroke="#8b8a25" stroke-width="1.0" opacity="1"/>
<polygon points="382.09,238.10 386.79,235.20 386.79,241.00" fill="none" stroke="#8b8a25" stroke-width="1.0" opacity="1"/>
<polygon points="372.69,248.40 377.39,245.50 377.39,251.30" fill="none" stroke="#8b8a25" stroke-width="1.0" opacity="1"/>
<polygon points="391.99,257.90 396.69,255.00 396.69,260.80" fill="none" stroke="#8b8a25" stroke-width="1.0" opacity="1"/>
<polygon points="371.49,265.50 376.19,262.60 376.19,268.40" fill="none" stroke="#8b8a25" stroke-width="1.0" opacity="1"/>
<polygon points="433.59,260.30 438.29,257.40 438.29,263.20" fill="none" stroke="#8b8a25" stroke-width="1.0" opacity="1"/>
<polygon points="531.30,276.70 530.00,278.95 527.40,278.95 526.10,276.70 527.40,274.45 530.00,274.45" fill="none" stroke="#8b8a25" stroke-width="1.0" opacity="1"/>
<polygon points="533.40,220.29 536.30,224.99 530.50,224.99" fill="none" stroke="#3d9a3d" stroke-width="1.0" opacity="1"/>
<polygon points="528.10,239.69 531.00,244.39 525.20,244.39" fill="none" stroke="#3d9a3d" stroke-width="1.0" opacity="1"/>
<polygon points="523.40,246.09 526.30,250.79 520.50,250.79" fill="none" stroke="#3d9a3d" stroke-width="1.0" opacity="1"/>
<polygon points="509.30,269.99 512.20,274.69 506.40,274.69" fill="none" stroke="#3d9a3d" stroke-width="1.0" opacity="1"/>
<polygon points="514.00,262.89 516.90,267.59 511.10,267.59" fill="none" stroke="#3d9a3d" stroke-width="1.0" opacity="1"/>
<polygon points="518.70,256.49 521.60,261.19 515.80,261.19" fill="none" stroke="#3d9a3d" stroke-width="1.0" opacity="1"/>
<polygon points="523.40,251.19 526.30,255.89 520.50,255.89" fill="none" stroke="#3d9a3d" stroke-width="1.0" opacity="1"/>
<polygon points="523.40,247.69 526.30,252.39 520.50,252.39" fill="none" stroke="#3d9a3d" stroke-width="1.0" opacity="1"/>
<polygon points="537.50,251.79 540.40,256.49 534.60,256.49" fill="none" stroke="#3d9a3d" stroke-width="1.0" opacity="1"/>
<polygon points="531.60,224.40 534.20,227.00 531.60,229.60 529.00,227.00" fill="#ffffff" stroke="#7d6a55" stroke-width="0.7" opacity="1"/>
<polygon points="531.60,224.40 531.60,229.60 529.00,227.00" fill="#7d6a55" stroke="#7d6a55" stroke-width="0.5" opacity="1"/>
<polygon points="523.40,235.00 526.00,237.60 523.40,240.20 520.80,237.60" fill="#ffffff" stroke="#7d6a55" stroke-width="0.7" opacity="1"/>
<polygon points="523.40,235.00 523.40,240.20 520.80,237.60" fill="#7d6a55" stroke="#7d6a55" stroke-width="0.5" opacity="1"/>
<polygon points="413.30,290.80 415.87,292.67 414.89,295.68 411.71,295.68 410.73,292.67" fill="none" stroke="#e8943c" stroke-width="1.0" opacity="1"/>
<polygon points="438.18,314.00 442.72,311.20 442.72,316.80" fill="none" stroke="#e8943c" stroke-width="1.0" opacity="1"/>
<polygon points="454.68,308.20 459.22,305.40 459.22,311.00" fill="none" stroke="#e8943c" stroke-width="1.0" opacity="1"/>
<polygon points="496.28,269.10 500.82,266.30 500.82,271.90" fill="none" stroke="#e8943c" stroke-width="1.0" opacity="1"/>
<polygon points="450.52,299.00 445.98,296.20 445.98,301.80" fill="none" stroke="#e8a060" stroke-width="0.7" opacity="0.7"/>
<polygon points="464.52,283.00 459.98,280.20 459.98,285.80" fill="none" stroke="#e8a060" stroke-width="0.7" opacity="0.7"/>
<polygon points="502.30,285.00 503.33,287.48 506.01,287.69 503.97,289.44 504.59,292.06 502.30,290.65 500.01,292.06 500.63,289.44 498.59,287.69 501.27,287.48" fill="#e8261c" stroke="#e8261c" stroke-width="0.3" opacity="1"/>
<polygon points="502.30,289.00 503.33,291.48 506.01,291.69 503.97,293.44 504.59,296.06 502.30,294.65 500.01,296.06 500.63,293.44 498.59,291.69 501.27,291.48" fill="#e8261c" stroke="#e8261c" stroke-width="0.3" opacity="1"/>
<polygon points="487.40,302.70 488.43,305.18 491.11,305.39 489.07,307.14 489.69,309.76 487.40,308.36 485.11,309.76 485.73,307.14 483.69,305.39 486.37,305.18" fill="#e8261c" stroke="#e8261c" stroke-width="0.3" opacity="1"/>
<polygon points="487.40,310.30 488.43,312.78 491.11,312.99 489.07,314.74 489.69,317.36 487.40,315.95 485.11,317.36 485.73,314.74 483.69,312.99 486.37,312.78" fill="#e8261c" stroke="#e8261c" stroke-width="0.3" opacity="1"/>
<polygon points="487.40,324.70 488.43,327.18 491.11,327.39 489.07,329.14 489.69,331.76 487.40,330.36 485.11,331.76 485.73,329.14 483.69,327.39 486.37,327.18" fill="#e8261c" stroke="#e8261c" stroke-width="0.3" opacity="1"/>
<polygon points="487.40,333.80 488.43,336.28 491.11,336.49 489.07,338.24 489.69,340.86 487.40,339.45 485.11,340.86 485.73,338.24 483.69,336.49 486.37,336.28" fill="#e8261c" stroke="#e8261c" stroke-width="0.3" opacity="1"/>
<polygon points="472.10,346.00 473.13,348.48 475.81,348.69 473.77,350.44 474.39,353.06 472.10,351.65 469.81,353.06 470.43,350.44 468.39,348.69 471.07,348.48" fill="#e8261c" stroke="#e8261c" stroke-width="0.3" opacity="1"/>
<polygon points="472.10,352.50 473.13,354.98 475.81,355.19 473.77,356.94 474.39,359.56 472.10,358.15 469.81,359.56 470.43,356.94 468.39,355.19 471.07,354.98" fill="#e8261c" stroke="#e8261c" stroke-width="0.3" opacity="1"/>
<polygon points="456.30,360.80 457.33,363.28 460.01,363.49 457.97,365.24 458.59,367.86 456.30,366.45 454.01,367.86 454.63,365.24 452.59,363.49 455.27,363.28" fill="#e8261c" stroke="#e8261c" stroke-width="0.3" opacity="1"/>
<polygon points="456.30,366.60 457.33,369.08 460.01,369.29 457.97,371.04 458.59,373.66 456.30,372.25 454.01,373.66 454.63,371.04 452.59,369.29 455.27,369.08" fill="#e8261c" stroke="#e8261c" stroke-width="0.3" opacity="1"/>
<polygon points="441.20,361.80 442.23,364.28 444.91,364.49 442.87,366.24 443.49,368.86 441.20,367.45 438.91,368.86 439.53,366.24 437.49,364.49 440.17,364.28" fill="#e8261c" stroke="#e8261c" stroke-width="0.3" opacity="1"/>
<polygon points="441.20,384.10 442.23,386.58 444.91,386.79 442.87,388.54 443.49,391.16 441.20,389.75 438.91,391.16 439.53,388.54 437.49,386.79 440.17,386.58" fill="#e8261c" stroke="#e8261c" stroke-width="0.3" opacity="1"/>
<polygon points="502.60,308.80 503.63,311.28 506.31,311.49 504.27,313.24 504.89,315.86 502.60,314.45 500.31,315.86 500.93,313.24 498.89,311.49 501.57,311.28" fill="none" stroke="#e8261c" stroke-width="1.0" opacity="1"/>
<polygon points="502.60,317.40 503.63,319.88 506.31,320.09 504.27,321.84 504.89,324.46 502.60,323.06 500.31,324.46 500.93,321.84 498.89,320.09 501.57,319.88" fill="none" stroke="#e8261c" stroke-width="1.0" opacity="1"/>
<polygon points="487.40,358.70 488.43,361.18 491.11,361.39 489.07,363.14 489.69,365.76 487.40,364.36 485.11,365.76 485.73,363.14 483.69,361.39 486.37,361.18" fill="none" stroke="#e8261c" stroke-width="1.0" opacity="1"/>
<polygon points="487.40,376.80 488.43,379.28 491.11,379.49 489.07,381.24 489.69,383.86 487.40,382.45 485.11,383.86 485.73,381.24 483.69,379.49 486.37,379.28" fill="none" stroke="#e8261c" stroke-width="1.0" opacity="1"/>
<line x1="441.20" y1="390.00" x2="441.20" y2="393.50" stroke="#e8261c" stroke-width="0.8" />
<polygon points="439.8,392.5 442.6,392.5 441.2,395.3" fill="#e8261c"/>
<line x1="487.40" y1="384.50" x2="487.40" y2="392.00" stroke="#e8261c" stroke-width="0.8" />
<polygon points="485.8,390.8 489.0,390.8 487.4,394.6" fill="#e8261c"/>
<polygon points="322.20,316.50 323.13,318.73 325.53,318.92 323.70,320.49 324.26,322.83 322.20,321.57 320.14,322.83 320.70,320.49 318.87,318.92 321.27,318.73" fill="#e8261c" stroke="#e8261c" stroke-width="0.3" opacity="1"/>
<text x="327.60" y="320.30" font-size="5.85" fill="#2e2e2e" font-family='"Liberation Sans", Arial, sans-serif' dominant-baseline="central">GDS 304</text>
<polygon points="322.20,325.20 323.13,327.43 325.53,327.62 323.70,329.19 324.26,331.53 322.20,330.27 320.14,331.53 320.70,329.19 318.87,327.62 321.27,327.43" fill="none" stroke="#e8261c" stroke-width="0.9" opacity="1"/>
<text x="327.60" y="329.00" font-size="5.85" fill="#2e2e2e" font-family='"Liberation Sans", Arial, sans-serif' dominant-baseline="central">Surface GDS 304</text>
<circle cx="322.20" cy="336.10" r="2.3" fill="#b4b4b4" stroke="#b4b4b4" stroke-width="0.3" opacity="1"/>
<circle cx="329.80" cy="336.10" r="2.2" fill="none" stroke="#adadad" stroke-width="0.8" opacity="1"/>
<text x="336.00" y="336.40" font-size="5.85" fill="#2e2e2e" font-family='"Liberation Sans", Arial, sans-serif' dominant-baseline="central">CG 304</text>
<polygon points="324.72,343.60 320.18,340.80 320.18,346.40" fill="none" stroke="#adadad" stroke-width="0.8" opacity="1"/>
<text x="327.60" y="343.90" font-size="5.85" fill="#2e2e2e" font-family='"Liberation Sans", Arial, sans-serif' dominant-baseline="central">Low-carbon steel</text>
<polygon points="322.20,348.90 324.90,351.60 322.20,354.30 319.50,351.60" fill="none" stroke="#adadad" stroke-width="0.8" opacity="1"/>
<text x="327.60" y="351.90" font-size="5.85" fill="#2e2e2e" font-family='"Liberation Sans", Arial, sans-serif' dominant-baseline="central">HSLA steel</text>
<polygon points="322.20,362.61 325.10,357.91 319.30,357.91" fill="none" stroke="#777" stroke-width="0.7" opacity="1"/>
<text x="327.60" y="360.30" font-size="5.85" fill="#2e2e2e" font-family='"Liberation Sans", Arial, sans-serif' dominant-baseline="central">Ferrite +precipitate steel</text>
<polygon points="324.80,368.50 323.50,370.75 320.90,370.75 319.60,368.50 320.90,366.25 323.50,366.25" fill="none" stroke="#8b8a25" stroke-width="1.0" opacity="1"/>
<text x="327.60" y="368.80" font-size="5.85" fill="#2e2e2e" font-family='"Liberation Sans", Arial, sans-serif' dominant-baseline="central">Dual-phase steel</text>
<polygon points="319.59,376.50 324.29,373.60 324.29,379.40" fill="none" stroke="#8b8a25" stroke-width="1.0" opacity="1"/>
<text x="327.60" y="376.80" font-size="5.85" fill="#2e2e2e" font-family='"Liberation Sans", Arial, sans-serif' dominant-baseline="central">F-P steel</text>
<polygon points="322.20,381.89 325.10,386.59 319.30,386.59" fill="none" stroke="#3d9a3d" stroke-width="1.0" opacity="1"/>
<text x="327.60" y="384.80" font-size="5.85" fill="#2e2e2e" font-family='"Liberation Sans", Arial, sans-serif' dominant-baseline="central">TRIP steel</text>
<polygon points="324.80,391.90 323.50,394.15 320.90,394.15 319.60,391.90 320.90,389.65 323.50,389.65" fill="none" stroke="#555" stroke-width="0.8" opacity="1"/>
<text x="327.60" y="392.20" font-size="5.85" fill="#2e2e2e" font-family='"Liberation Sans", Arial, sans-serif' dominant-baseline="central">CT Ti</text>
<polygon points="394.20,317.20 396.86,319.13 395.85,322.27 392.55,322.27 391.54,319.13" fill="none" stroke="#2f6db5" stroke-width="1.0" opacity="1"/>
<text x="401.70" y="320.30" font-size="5.85" fill="#2e2e2e" font-family='"Liberation Sans", Arial, sans-serif' dominant-baseline="central">Forged 304</text>
<polygon points="394.20,326.09 397.10,330.79 391.30,330.79" fill="none" stroke="#2f6db5" stroke-width="1.0" opacity="1"/>
<text x="401.70" y="329.00" font-size="5.85" fill="#2e2e2e" font-family='"Liberation Sans", Arial, sans-serif' dominant-baseline="central">Rolled IF</text>
<circle cx="394.20" cy="336.10" r="2.4" fill="none" stroke="#2f6db5" stroke-width="1.0" opacity="1"/>
<text x="401.70" y="336.40" font-size="5.85" fill="#2e2e2e" font-family='"Liberation Sans", Arial, sans-serif' dominant-baseline="central">Martensitic steel</text>
<polygon points="394.20,340.80 397.00,343.60 394.20,346.40 391.40,343.60" fill="none" stroke="#2f6db5" stroke-width="1.0" opacity="1"/>
<text x="401.70" y="343.90" font-size="5.85" fill="#2e2e2e" font-family='"Liberation Sans", Arial, sans-serif' dominant-baseline="central">Hot-rolled 316</text>
<polygon points="394.20,348.80 397.00,351.60 394.20,354.40 391.40,351.60" fill="#ffffff" stroke="#7a2a1a" stroke-width="0.7" opacity="1"/>
<polygon points="394.20,348.80 394.20,354.40 391.40,351.60" fill="#7a2a1a" stroke="#7a2a1a" stroke-width="0.5" opacity="1"/>
<text x="401.70" y="351.90" font-size="5.85" fill="#2e2e2e" font-family='"Liberation Sans", Arial, sans-serif' dominant-baseline="central">Rolled Cu alloy</text>
<polygon points="391.59,360.00 396.29,357.10 396.29,362.90" fill="none" stroke="#2f6db5" stroke-width="1.0" opacity="1"/>
<text x="401.70" y="360.30" font-size="5.85" fill="#2e2e2e" font-family='"Liberation Sans", Arial, sans-serif' dominant-baseline="central">Deformed Ni</text>
<polygon points="396.81,368.50 392.11,365.60 392.11,371.40" fill="none" stroke="#e8943c" stroke-width="1.0" opacity="1"/>
<text x="401.70" y="368.80" font-size="5.85" fill="#2e2e2e" font-family='"Liberation Sans", Arial, sans-serif' dominant-baseline="central">AM 316</text>
<polygon points="391.59,376.50 396.29,373.60 396.29,379.40" fill="none" stroke="#e8943c" stroke-width="1.0" opacity="1"/>
<text x="401.70" y="376.80" font-size="5.85" fill="#2e2e2e" font-family='"Liberation Sans", Arial, sans-serif' dominant-baseline="central">UFG Cu</text>
<polygon points="394.20,381.70 396.86,383.63 395.85,386.77 392.55,386.77 391.54,383.63" fill="none" stroke="#e8943c" stroke-width="1.0" opacity="1"/>
<text x="401.70" y="384.80" font-size="5.85" fill="#2e2e2e" font-family='"Liberation Sans", Arial, sans-serif' dominant-baseline="central">UFG Ni</text>
<rect x="317.60" y="200.60" width="222.60" height="194.90" fill="none" stroke="#6a6a6a" stroke-width="1"/>
<line x1="342.60" y1="395.50" x2="342.60" y2="392.90" stroke="#6a6a6a" stroke-width="1" />
<line x1="367.30" y1="395.50" x2="367.30" y2="393.68" stroke="#6a6a6a" stroke-width="1" />
<line x1="392.00" y1="395.50" x2="392.00" y2="392.90" stroke="#6a6a6a" stroke-width="1" />
<line x1="416.70" y1="395.50" x2="416.70" y2="393.68" stroke="#6a6a6a" stroke-width="1" />
<line x1="441.40" y1="395.50" x2="441.40" y2="392.90" stroke="#6a6a6a" stroke-width="1" />
<line x1="466.10" y1="395.50" x2="466.10" y2="393.68" stroke="#6a6a6a" stroke-width="1" />
<line x1="490.80" y1="395.50" x2="490.80" y2="392.90" stroke="#6a6a6a" stroke-width="1" />
<line x1="515.50" y1="395.50" x2="515.50" y2="393.68" stroke="#6a6a6a" stroke-width="1" />
<text x="344.40" y="404.40" font-size="7.8" text-anchor="middle" fill="#3a3a3a" font-weight="normal" font-family='"Liberation Sans", Arial, sans-serif' dominant-baseline="central" stroke="#3a3a3a" stroke-width="0" >1.5</text>
<text x="393.80" y="404.40" font-size="7.8" text-anchor="middle" fill="#3a3a3a" font-weight="normal" font-family='"Liberation Sans", Arial, sans-serif' dominant-baseline="central" stroke="#3a3a3a" stroke-width="0" >2.0</text>
<text x="443.20" y="404.40" font-size="7.8" text-anchor="middle" fill="#3a3a3a" font-weight="normal" font-family='"Liberation Sans", Arial, sans-serif' dominant-baseline="central" stroke="#3a3a3a" stroke-width="0" >2.5</text>
<text x="492.60" y="404.40" font-size="7.8" text-anchor="middle" fill="#3a3a3a" font-weight="normal" font-family='"Liberation Sans", Arial, sans-serif' dominant-baseline="central" stroke="#3a3a3a" stroke-width="0" >3.0</text>
<text x="538.20" y="404.40" font-size="7.8" text-anchor="middle" fill="#3a3a3a" font-weight="normal" font-family='"Liberation Sans", Arial, sans-serif' dominant-baseline="central" stroke="#3a3a3a" stroke-width="0" >3.5</text>
<line x1="540.20" y1="392.64" x2="538.64" y2="392.64" stroke="#6a6a6a" stroke-width="1" />
<line x1="540.20" y1="388.22" x2="538.64" y2="388.22" stroke="#6a6a6a" stroke-width="1" />
<line x1="540.20" y1="385.09" x2="538.64" y2="385.09" stroke="#6a6a6a" stroke-width="1" />
<line x1="540.20" y1="382.66" x2="538.64" y2="382.66" stroke="#6a6a6a" stroke-width="1" />
<line x1="540.20" y1="380.67" x2="538.64" y2="380.67" stroke="#6a6a6a" stroke-width="1" />
<line x1="540.20" y1="378.99" x2="538.64" y2="378.99" stroke="#6a6a6a" stroke-width="1" />
<line x1="540.20" y1="377.53" x2="538.64" y2="377.53" stroke="#6a6a6a" stroke-width="1" />
<line x1="540.20" y1="376.25" x2="538.64" y2="376.25" stroke="#6a6a6a" stroke-width="1" />
<line x1="540.20" y1="375.10" x2="537.60" y2="375.10" stroke="#6a6a6a" stroke-width="1" />
<line x1="540.20" y1="367.54" x2="538.64" y2="367.54" stroke="#6a6a6a" stroke-width="1" />
<line x1="540.20" y1="363.12" x2="538.64" y2="363.12" stroke="#6a6a6a" stroke-width="1" />
<line x1="540.20" y1="359.99" x2="538.64" y2="359.99" stroke="#6a6a6a" stroke-width="1" />
<line x1="540.20" y1="357.56" x2="538.64" y2="357.56" stroke="#6a6a6a" stroke-width="1" />
<line x1="540.20" y1="355.57" x2="538.64" y2="355.57" stroke="#6a6a6a" stroke-width="1" />
<line x1="540.20" y1="353.89" x2="538.64" y2="353.89" stroke="#6a6a6a" stroke-width="1" />
<line x1="540.20" y1="352.43" x2="538.64" y2="352.43" stroke="#6a6a6a" stroke-width="1" />
<line x1="540.20" y1="351.15" x2="538.64" y2="351.15" stroke="#6a6a6a" stroke-width="1" />
<line x1="540.20" y1="350.00" x2="537.60" y2="350.00" stroke="#6a6a6a" stroke-width="1" />
<line x1="540.20" y1="342.44" x2="538.64" y2="342.44" stroke="#6a6a6a" stroke-width="1" />
<line x1="540.20" y1="338.02" x2="538.64" y2="338.02" stroke="#6a6a6a" stroke-width="1" />
<line x1="540.20" y1="334.89" x2="538.64" y2="334.89" stroke="#6a6a6a" stroke-width="1" />
<line x1="540.20" y1="332.46" x2="538.64" y2="332.46" stroke="#6a6a6a" stroke-width="1" />
<line x1="540.20" y1="330.47" x2="538.64" y2="330.47" stroke="#6a6a6a" stroke-width="1" />
<line x1="540.20" y1="328.79" x2="538.64" y2="328.79" stroke="#6a6a6a" stroke-width="1" />
<line x1="540.20" y1="327.33" x2="538.64" y2="327.33" stroke="#6a6a6a" stroke-width="1" />
<line x1="540.20" y1="326.05" x2="538.64" y2="326.05" stroke="#6a6a6a" stroke-width="1" />
<line x1="540.20" y1="324.90" x2="537.60" y2="324.90" stroke="#6a6a6a" stroke-width="1" />
<line x1="540.20" y1="317.34" x2="538.64" y2="317.34" stroke="#6a6a6a" stroke-width="1" />
<line x1="540.20" y1="312.92" x2="538.64" y2="312.92" stroke="#6a6a6a" stroke-width="1" />
<line x1="540.20" y1="309.79" x2="538.64" y2="309.79" stroke="#6a6a6a" stroke-width="1" />
<line x1="540.20" y1="307.36" x2="538.64" y2="307.36" stroke="#6a6a6a" stroke-width="1" />
<line x1="540.20" y1="305.37" x2="538.64" y2="305.37" stroke="#6a6a6a" stroke-width="1" />
<line x1="540.20" y1="303.69" x2="538.64" y2="303.69" stroke="#6a6a6a" stroke-width="1" />
<line x1="540.20" y1="302.23" x2="538.64" y2="302.23" stroke="#6a6a6a" stroke-width="1" />
<line x1="540.20" y1="300.95" x2="538.64" y2="300.95" stroke="#6a6a6a" stroke-width="1" />
<line x1="540.20" y1="299.80" x2="537.60" y2="299.80" stroke="#6a6a6a" stroke-width="1" />
<line x1="540.20" y1="292.24" x2="538.64" y2="292.24" stroke="#6a6a6a" stroke-width="1" />
<line x1="540.20" y1="287.82" x2="538.64" y2="287.82" stroke="#6a6a6a" stroke-width="1" />
<line x1="540.20" y1="284.69" x2="538.64" y2="284.69" stroke="#6a6a6a" stroke-width="1" />
<line x1="540.20" y1="282.26" x2="538.64" y2="282.26" stroke="#6a6a6a" stroke-width="1" />
<line x1="540.20" y1="280.27" x2="538.64" y2="280.27" stroke="#6a6a6a" stroke-width="1" />
<line x1="540.20" y1="278.59" x2="538.64" y2="278.59" stroke="#6a6a6a" stroke-width="1" />
<line x1="540.20" y1="277.13" x2="538.64" y2="277.13" stroke="#6a6a6a" stroke-width="1" />
<line x1="540.20" y1="275.85" x2="538.64" y2="275.85" stroke="#6a6a6a" stroke-width="1" />
<line x1="540.20" y1="274.70" x2="537.60" y2="274.70" stroke="#6a6a6a" stroke-width="1" />
<line x1="540.20" y1="267.14" x2="538.64" y2="267.14" stroke="#6a6a6a" stroke-width="1" />
<line x1="540.20" y1="262.72" x2="538.64" y2="262.72" stroke="#6a6a6a" stroke-width="1" />
<line x1="540.20" y1="259.59" x2="538.64" y2="259.59" stroke="#6a6a6a" stroke-width="1" />
<line x1="540.20" y1="257.16" x2="538.64" y2="257.16" stroke="#6a6a6a" stroke-width="1" />
<line x1="540.20" y1="255.17" x2="538.64" y2="255.17" stroke="#6a6a6a" stroke-width="1" />
<line x1="540.20" y1="253.49" x2="538.64" y2="253.49" stroke="#6a6a6a" stroke-width="1" />
<line x1="540.20" y1="252.03" x2="538.64" y2="252.03" stroke="#6a6a6a" stroke-width="1" />
<line x1="540.20" y1="250.75" x2="538.64" y2="250.75" stroke="#6a6a6a" stroke-width="1" />
<line x1="540.20" y1="249.60" x2="537.60" y2="249.60" stroke="#6a6a6a" stroke-width="1" />
<line x1="540.20" y1="242.04" x2="538.64" y2="242.04" stroke="#6a6a6a" stroke-width="1" />
<line x1="540.20" y1="237.62" x2="538.64" y2="237.62" stroke="#6a6a6a" stroke-width="1" />
<line x1="540.20" y1="234.49" x2="538.64" y2="234.49" stroke="#6a6a6a" stroke-width="1" />
<line x1="540.20" y1="232.06" x2="538.64" y2="232.06" stroke="#6a6a6a" stroke-width="1" />
<line x1="540.20" y1="230.07" x2="538.64" y2="230.07" stroke="#6a6a6a" stroke-width="1" />
<line x1="540.20" y1="228.39" x2="538.64" y2="228.39" stroke="#6a6a6a" stroke-width="1" />
<line x1="540.20" y1="226.93" x2="538.64" y2="226.93" stroke="#6a6a6a" stroke-width="1" />
<line x1="540.20" y1="225.65" x2="538.64" y2="225.65" stroke="#6a6a6a" stroke-width="1" />
<line x1="540.20" y1="224.50" x2="537.60" y2="224.50" stroke="#6a6a6a" stroke-width="1" />
<line x1="540.20" y1="216.94" x2="538.64" y2="216.94" stroke="#6a6a6a" stroke-width="1" />
<line x1="540.20" y1="212.52" x2="538.64" y2="212.52" stroke="#6a6a6a" stroke-width="1" />
<line x1="540.20" y1="209.39" x2="538.64" y2="209.39" stroke="#6a6a6a" stroke-width="1" />
<line x1="540.20" y1="206.96" x2="538.64" y2="206.96" stroke="#6a6a6a" stroke-width="1" />
<line x1="540.20" y1="204.97" x2="538.64" y2="204.97" stroke="#6a6a6a" stroke-width="1" />
<line x1="540.20" y1="203.29" x2="538.64" y2="203.29" stroke="#6a6a6a" stroke-width="1" />
<line x1="540.20" y1="201.83" x2="538.64" y2="201.83" stroke="#6a6a6a" stroke-width="1" />
<text x="542.3" y="224.80" font-size="7.0" fill="#3a3a3a" font-family='"Liberation Sans", Arial, sans-serif' dominant-baseline="central">10<tspan font-size="4.3" dy="-2.4">-3</tspan></text>
<text x="542.3" y="249.90" font-size="7.0" fill="#3a3a3a" font-family='"Liberation Sans", Arial, sans-serif' dominant-baseline="central">10<tspan font-size="4.3" dy="-2.4">-4</tspan></text>
<text x="542.3" y="275.00" font-size="7.0" fill="#3a3a3a" font-family='"Liberation Sans", Arial, sans-serif' dominant-baseline="central">10<tspan font-size="4.3" dy="-2.4">-5</tspan></text>
<text x="542.3" y="300.10" font-size="7.0" fill="#3a3a3a" font-family='"Liberation Sans", Arial, sans-serif' dominant-baseline="central">10<tspan font-size="4.3" dy="-2.4">-6</tspan></text>
<text x="542.3" y="325.20" font-size="7.0" fill="#3a3a3a" font-family='"Liberation Sans", Arial, sans-serif' dominant-baseline="central">10<tspan font-size="4.3" dy="-2.4">-7</tspan></text>
<text x="542.3" y="350.30" font-size="7.0" fill="#3a3a3a" font-family='"Liberation Sans", Arial, sans-serif' dominant-baseline="central">10<tspan font-size="4.3" dy="-2.4">-8</tspan></text>
<text x="542.3" y="375.40" font-size="7.0" fill="#3a3a3a" font-family='"Liberation Sans", Arial, sans-serif' dominant-baseline="central">10<tspan font-size="4.3" dy="-2.4">-9</tspan></text>
<text x="564.20" y="303.70" font-size="8.0" text-anchor="middle" fill="#3a3a3a" font-weight="normal" font-family='"Liberation Sans", Arial, sans-serif' dominant-baseline="central" stroke="#3a3a3a" stroke-width="0.1" transform="rotate(-90 564.2 303.7)">Average ratchetting strain rate</text>
<text x="430.3" y="418.3" font-size="8.0" text-anchor="middle" fill="#3a3a3a" font-family='"Liberation Sans", Arial, sans-serif' dominant-baseline="central">Normalized maximum stress, <tspan font-style="italic">σ</tspan><tspan font-size="5" dy="1.6" font-style="italic">max</tspan><tspan dy="-1.6">/</tspan><tspan font-style="italic">E</tspan> (10<tspan font-size="5" dy="-2.6">-3</tspan><tspan dy="2.6">)</tspan></text>
<text x="325.00" y="209.80" font-size="10.5" text-anchor="middle" fill="#111" font-weight="bold" font-family='"Liberation Sans", Arial, sans-serif' dominant-baseline="central" stroke="#111" stroke-width="0.1" >F</text>
</svg></body></html>
